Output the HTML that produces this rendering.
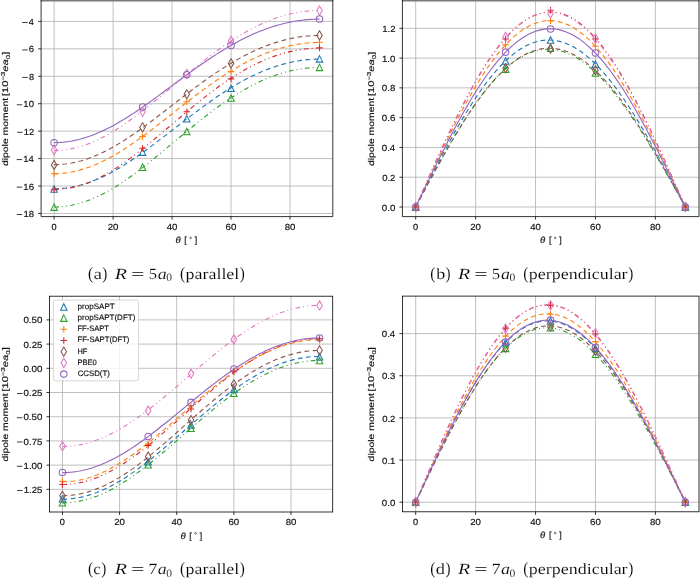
<!DOCTYPE html>
<html><head><meta charset="utf-8"><style>
html,body{margin:0;padding:0;background:#fff;overflow:hidden;}
svg{display:block;filter:blur(0.4px);text-rendering:geometricPrecision;}
.s{stroke:#111;stroke-width:0.16px;}
</style></head><body>
<svg width="700" height="578" viewBox="0 0 700 578">
<line x1="54.1" y1="0.6" x2="54.1" y2="216.6" stroke="#b0b0b0" stroke-width="0.8"/>
<line x1="113.08" y1="0.6" x2="113.08" y2="216.6" stroke="#b0b0b0" stroke-width="0.8"/>
<line x1="172.06" y1="0.6" x2="172.06" y2="216.6" stroke="#b0b0b0" stroke-width="0.8"/>
<line x1="231.04" y1="0.6" x2="231.04" y2="216.6" stroke="#b0b0b0" stroke-width="0.8"/>
<line x1="290.02" y1="0.6" x2="290.02" y2="216.6" stroke="#b0b0b0" stroke-width="0.8"/>
<line x1="41.1" y1="21.4" x2="332.8" y2="21.4" stroke="#b0b0b0" stroke-width="0.8"/>
<line x1="41.1" y1="48.84" x2="332.8" y2="48.84" stroke="#b0b0b0" stroke-width="0.8"/>
<line x1="41.1" y1="76.27" x2="332.8" y2="76.27" stroke="#b0b0b0" stroke-width="0.8"/>
<line x1="41.1" y1="103.71" x2="332.8" y2="103.71" stroke="#b0b0b0" stroke-width="0.8"/>
<line x1="41.1" y1="131.14" x2="332.8" y2="131.14" stroke="#b0b0b0" stroke-width="0.8"/>
<line x1="41.1" y1="158.58" x2="332.8" y2="158.58" stroke="#b0b0b0" stroke-width="0.8"/>
<line x1="41.1" y1="186.02" x2="332.8" y2="186.02" stroke="#b0b0b0" stroke-width="0.8"/>
<line x1="41.1" y1="213.45" x2="332.8" y2="213.45" stroke="#b0b0b0" stroke-width="0.8"/>
<polyline points="54.1,188.79 57.05,188.75 60,188.61 62.95,188.38 65.9,188.06 68.84,187.65 71.79,187.16 74.74,186.57 77.69,185.9 80.64,185.14 83.59,184.29 86.54,183.36 89.49,182.35 92.44,181.26 95.39,180.09 98.34,178.84 101.28,177.52 104.23,176.13 107.18,174.66 110.13,173.13 113.08,171.53 116.03,169.87 118.98,168.16 121.93,166.38 124.88,164.55 127.82,162.67 130.77,160.73 133.72,158.76 136.67,156.74 139.62,154.68 142.57,152.58 145.52,150.45 148.47,148.3 151.42,146.11 154.37,143.9 157.31,141.67 160.26,139.42 163.21,137.16 166.16,134.88 169.11,132.6 172.06,130.31 175.01,128.02 177.96,125.74 180.91,123.45 183.86,121.17 186.8,118.9 189.75,116.65 192.7,114.41 195.65,112.18 198.6,109.98 201.55,107.8 204.5,105.64 207.45,103.52 210.4,101.42 213.35,99.35 216.29,97.32 219.24,95.33 222.19,93.37 225.14,91.46 228.09,89.58 231.04,87.75 233.99,85.97 236.94,84.23 239.89,82.54 242.84,80.91 245.78,79.32 248.73,77.79 251.68,76.31 254.63,74.88 257.58,73.52 260.53,72.21 263.48,70.96 266.43,69.76 269.38,68.63 272.33,67.56 275.27,66.55 278.22,65.6 281.17,64.72 284.12,63.9 287.07,63.14 290.02,62.45 292.97,61.82 295.92,61.26 298.87,60.76 301.82,60.33 304.76,59.96 307.71,59.66 310.66,59.43 313.61,59.26 316.56,59.16 319.51,59.13" fill="none" stroke="#1f77b4" stroke-width="1.12" stroke-dasharray="4.8 3.4"/>
<polyline points="54.1,206.95 57.05,206.9 60,206.76 62.95,206.51 65.9,206.16 68.84,205.72 71.79,205.18 74.74,204.54 77.69,203.81 80.64,202.98 83.59,202.06 86.54,201.05 89.49,199.95 92.44,198.77 95.39,197.49 98.34,196.14 101.28,194.71 104.23,193.19 107.18,191.6 110.13,189.94 113.08,188.21 116.03,186.41 118.98,184.54 121.93,182.62 124.88,180.63 127.82,178.59 130.77,176.5 133.72,174.36 136.67,172.17 139.62,169.94 142.57,167.67 145.52,165.37 148.47,163.03 151.42,160.67 154.37,158.28 157.31,155.87 160.26,153.45 163.21,151 166.16,148.55 169.11,146.09 172.06,143.62 175.01,141.15 177.96,138.69 180.91,136.23 183.86,133.77 186.8,131.33 189.75,128.91 192.7,126.5 195.65,124.11 198.6,121.74 201.55,119.4 204.5,117.09 207.45,114.8 210.4,112.56 213.35,110.34 216.29,108.17 219.24,106.03 222.19,103.94 225.14,101.89 228.09,99.89 231.04,97.93 233.99,96.03 236.94,94.17 239.89,92.37 242.84,90.62 245.78,88.93 248.73,87.3 251.68,85.72 254.63,84.21 257.58,82.75 260.53,81.36 263.48,80.03 266.43,78.76 269.38,77.55 272.33,76.42 275.27,75.34 278.22,74.34 281.17,73.4 284.12,72.53 287.07,71.72 290.02,70.99 292.97,70.32 295.92,69.72 298.87,69.2 301.82,68.74 304.76,68.35 307.71,68.03 310.66,67.79 313.61,67.61 316.56,67.5 319.51,67.47" fill="none" stroke="#2ca02c" stroke-width="1.12" stroke-dasharray="4.7 3.1 1 3.3 1 3.1"/>
<polyline points="54.1,173.63 57.05,173.59 60,173.45 62.95,173.21 65.9,172.88 68.84,172.46 71.79,171.95 74.74,171.35 77.69,170.65 80.64,169.87 83.59,169 86.54,168.05 89.49,167.01 92.44,165.88 95.39,164.68 98.34,163.4 101.28,162.04 104.23,160.61 107.18,159.11 110.13,157.54 113.08,155.9 116.03,154.19 118.98,152.43 121.93,150.61 124.88,148.74 127.82,146.81 130.77,144.83 133.72,142.81 136.67,140.74 139.62,138.64 142.57,136.5 145.52,134.32 148.47,132.12 151.42,129.89 154.37,127.64 157.31,125.37 160.26,123.08 163.21,120.78 166.16,118.46 169.11,116.15 172.06,113.82 175.01,111.5 177.96,109.18 180.91,106.86 183.86,104.56 186.8,102.26 189.75,99.98 192.7,97.72 195.65,95.47 198.6,93.25 201.55,91.05 204.5,88.88 207.45,86.74 210.4,84.63 213.35,82.55 216.29,80.51 219.24,78.51 222.19,76.55 225.14,74.63 228.09,72.76 231.04,70.93 233.99,69.14 236.94,67.41 239.89,65.72 242.84,64.09 245.78,62.51 248.73,60.98 251.68,59.51 254.63,58.09 257.58,56.74 260.53,55.43 263.48,54.19 266.43,53.01 269.38,51.89 272.33,50.83 275.27,49.83 278.22,48.89 281.17,48.01 284.12,47.2 287.07,46.45 290.02,45.77 292.97,45.15 295.92,44.59 298.87,44.1 301.82,43.67 304.76,43.31 307.71,43.02 310.66,42.79 313.61,42.62 316.56,42.52 319.51,42.49" fill="none" stroke="#ff7f0e" stroke-width="1.12" stroke-dasharray="4.8 3.4"/>
<polyline points="54.1,189.43 57.05,189.38 60,189.23 62.95,188.97 65.9,188.61 68.84,188.15 71.79,187.59 74.74,186.92 77.69,186.16 80.64,185.3 83.59,184.35 86.54,183.3 89.49,182.16 92.44,180.93 95.39,179.61 98.34,178.21 101.28,176.72 104.23,175.15 107.18,173.51 110.13,171.79 113.08,170 116.03,168.14 118.98,166.21 121.93,164.22 124.88,162.17 127.82,160.07 130.77,157.91 133.72,155.71 136.67,153.45 139.62,151.16 142.57,148.83 145.52,146.47 148.47,144.07 151.42,141.65 154.37,139.2 157.31,136.74 160.26,134.26 163.21,131.76 166.16,129.26 169.11,126.75 172.06,124.23 175.01,121.72 177.96,119.22 180.91,116.72 183.86,114.23 186.8,111.76 189.75,109.3 192.7,106.87 195.65,104.45 198.6,102.07 201.55,99.71 204.5,97.38 207.45,95.09 210.4,92.83 213.35,90.61 216.29,88.43 219.24,86.29 222.19,84.2 225.14,82.16 228.09,80.16 231.04,78.21 233.99,76.32 236.94,74.47 239.89,72.69 242.84,70.95 245.78,69.28 248.73,67.66 251.68,66.11 254.63,64.61 257.58,63.17 260.53,61.8 263.48,60.49 266.43,59.24 269.38,58.06 272.33,56.94 275.27,55.89 278.22,54.9 281.17,53.98 284.12,53.13 287.07,52.35 290.02,51.63 292.97,50.98 295.92,50.39 298.87,49.88 301.82,49.43 304.76,49.05 307.71,48.74 310.66,48.5 313.61,48.33 316.56,48.23 319.51,48.19" fill="none" stroke="#d62728" stroke-width="1.12" stroke-dasharray="4.7 3.1 1 3.3 1 3.1"/>
<polyline points="54.1,164.68 57.05,164.64 60,164.5 62.95,164.26 65.9,163.94 68.84,163.52 71.79,163.01 74.74,162.41 77.69,161.72 80.64,160.94 83.59,160.07 86.54,159.12 89.49,158.09 92.44,156.97 95.39,155.78 98.34,154.5 101.28,153.15 104.23,151.73 107.18,150.24 110.13,148.67 113.08,147.05 116.03,145.36 118.98,143.61 121.93,141.8 124.88,139.94 127.82,138.02 130.77,136.06 133.72,134.06 136.67,132.01 139.62,129.93 142.57,127.8 145.52,125.65 148.47,123.47 151.42,121.26 154.37,119.04 157.31,116.79 160.26,114.53 163.21,112.25 166.16,109.97 169.11,107.68 172.06,105.38 175.01,103.09 177.96,100.8 180.91,98.52 183.86,96.25 186.8,93.98 189.75,91.74 192.7,89.51 195.65,87.3 198.6,85.11 201.55,82.95 204.5,80.82 207.45,78.72 210.4,76.65 213.35,74.61 216.29,72.61 219.24,70.65 222.19,68.73 225.14,66.85 228.09,65.01 231.04,63.22 233.99,61.48 236.94,59.78 239.89,58.13 242.84,56.54 245.78,55 248.73,53.51 251.68,52.07 254.63,50.69 257.58,49.37 260.53,48.1 263.48,46.89 266.43,45.74 269.38,44.64 272.33,43.61 275.27,42.64 278.22,41.73 281.17,40.88 284.12,40.09 287.07,39.36 290.02,38.69 292.97,38.09 295.92,37.55 298.87,37.07 301.82,36.66 304.76,36.31 307.71,36.02 310.66,35.8 313.61,35.64 316.56,35.55 319.51,35.51" fill="none" stroke="#8c564b" stroke-width="1.12" stroke-dasharray="4.8 3.4"/>
<polyline points="54.1,150.41 57.05,150.36 60,150.21 62.95,149.96 65.9,149.61 68.84,149.17 71.79,148.62 74.74,147.98 77.69,147.25 80.64,146.41 83.59,145.49 86.54,144.47 89.49,143.37 92.44,142.18 95.39,140.9 98.34,139.54 101.28,138.09 104.23,136.57 107.18,134.97 110.13,133.3 113.08,131.56 116.03,129.75 118.98,127.87 121.93,125.94 124.88,123.94 127.82,121.89 130.77,119.79 133.72,117.64 136.67,115.44 139.62,113.2 142.57,110.92 145.52,108.61 148.47,106.26 151.42,103.89 154.37,101.49 157.31,99.07 160.26,96.63 163.21,94.17 166.16,91.71 169.11,89.24 172.06,86.76 175.01,84.28 177.96,81.81 180.91,79.34 183.86,76.88 186.8,74.43 189.75,71.99 192.7,69.57 195.65,67.18 198.6,64.8 201.55,62.45 204.5,60.13 207.45,57.84 210.4,55.59 213.35,53.37 216.29,51.19 219.24,49.05 222.19,46.95 225.14,44.9 228.09,42.89 231.04,40.93 233.99,39.02 236.94,37.16 239.89,35.36 242.84,33.61 245.78,31.92 248.73,30.28 251.68,28.7 254.63,27.18 257.58,25.73 260.53,24.33 263.48,23 266.43,21.73 269.38,20.52 272.33,19.38 275.27,18.31 278.22,17.3 281.17,16.36 284.12,15.49 287.07,14.69 290.02,13.95 292.97,13.29 295.92,12.69 298.87,12.16 301.82,11.7 304.76,11.32 307.71,11 310.66,10.75 313.61,10.57 316.56,10.47 319.51,10.43" fill="none" stroke="#e377c2" stroke-width="1.12" stroke-dasharray="4.7 3.1 1 3.3 1 3.1"/>
<polyline points="54.1,142.6 57.05,142.55 60,142.42 62.95,142.19 65.9,141.88 68.84,141.47 71.79,140.98 74.74,140.41 77.69,139.74 80.64,138.99 83.59,138.16 86.54,137.24 89.49,136.25 92.44,135.17 95.39,134.02 98.34,132.8 101.28,131.5 104.23,130.13 107.18,128.69 110.13,127.19 113.08,125.63 116.03,124 118.98,122.32 121.93,120.58 124.88,118.79 127.82,116.96 130.77,115.07 133.72,113.15 136.67,111.18 139.62,109.18 142.57,107.15 145.52,105.08 148.47,102.99 151.42,100.87 154.37,98.73 157.31,96.58 160.26,94.41 163.21,92.23 166.16,90.04 169.11,87.85 172.06,85.66 175.01,83.46 177.96,81.27 180.91,79.09 183.86,76.91 186.8,74.75 189.75,72.6 192.7,70.47 195.65,68.37 198.6,66.28 201.55,64.22 204.5,62.18 207.45,60.18 210.4,58.2 213.35,56.26 216.29,54.35 219.24,52.48 222.19,50.65 225.14,48.87 228.09,47.12 231.04,45.41 233.99,43.76 236.94,42.14 239.89,40.58 242.84,39.06 245.78,37.6 248.73,36.18 251.68,34.82 254.63,33.51 257.58,32.25 260.53,31.05 263.48,29.9 266.43,28.81 269.38,27.78 272.33,26.8 275.27,25.88 278.22,25.01 281.17,24.21 284.12,23.46 287.07,22.77 290.02,22.14 292.97,21.57 295.92,21.06 298.87,20.61 301.82,20.22 304.76,19.89 307.71,19.62 310.66,19.41 313.61,19.26 316.56,19.16 319.51,19.13" fill="none" stroke="#9467bd" stroke-width="1.12"/>
<path d="M54.1 185.78L50.85 192.28L57.35 192.28Z" fill="none" stroke="#1f77b4" stroke-width="1.05"/>
<path d="M142.57 148.88L139.32 155.38L145.82 155.38Z" fill="none" stroke="#1f77b4" stroke-width="1.05"/>
<path d="M186.8 115.55L183.55 122.05L190.05 122.05Z" fill="none" stroke="#1f77b4" stroke-width="1.05"/>
<path d="M231.04 85.09L227.79 91.59L234.29 91.59Z" fill="none" stroke="#1f77b4" stroke-width="1.05"/>
<path d="M319.51 55.6L316.26 62.1L322.76 62.1Z" fill="none" stroke="#1f77b4" stroke-width="1.05"/>
<path d="M54.1 203.89L50.85 210.39L57.35 210.39Z" fill="none" stroke="#2ca02c" stroke-width="1.05"/>
<path d="M142.57 163.97L139.32 170.47L145.82 170.47Z" fill="none" stroke="#2ca02c" stroke-width="1.05"/>
<path d="M186.8 128.31L183.55 134.81L190.05 134.81Z" fill="none" stroke="#2ca02c" stroke-width="1.05"/>
<path d="M231.04 94.83L227.79 101.33L234.29 101.33Z" fill="none" stroke="#2ca02c" stroke-width="1.05"/>
<path d="M319.51 64.11L316.26 70.61L322.76 70.61Z" fill="none" stroke="#2ca02c" stroke-width="1.05"/>
<path d="M50.85 173.67H57.35M54.1 170.42V176.92" fill="none" stroke="#ff7f0e" stroke-width="1.05"/>
<path d="M139.32 136.63H145.82M142.57 133.38V139.88" fill="none" stroke="#ff7f0e" stroke-width="1.05"/>
<path d="M183.55 101.65H190.05M186.8 98.4V104.9" fill="none" stroke="#ff7f0e" stroke-width="1.05"/>
<path d="M227.79 71.61H234.29M231.04 68.36V74.86" fill="none" stroke="#ff7f0e" stroke-width="1.05"/>
<path d="M316.26 42.25H322.76M319.51 39V45.5" fill="none" stroke="#ff7f0e" stroke-width="1.05"/>
<path d="M50.85 189.72H57.35M54.1 186.47V192.97" fill="none" stroke="#d62728" stroke-width="1.05"/>
<path d="M139.32 148.29H145.82M142.57 145.04V151.54" fill="none" stroke="#d62728" stroke-width="1.05"/>
<path d="M183.55 111.66H190.05M186.8 108.41V114.91" fill="none" stroke="#d62728" stroke-width="1.05"/>
<path d="M227.79 78.88H234.29M231.04 75.63V82.13" fill="none" stroke="#d62728" stroke-width="1.05"/>
<path d="M316.26 47.88H322.76M319.51 44.63V51.13" fill="none" stroke="#d62728" stroke-width="1.05"/>
<path d="M54.1 160.29L56.86 164.89L54.1 169.49L51.34 164.89Z" fill="none" stroke="#8c564b" stroke-width="1.05"/>
<path d="M142.57 122.71L145.33 127.3L142.57 131.9L139.81 127.3Z" fill="none" stroke="#8c564b" stroke-width="1.05"/>
<path d="M186.8 89.65L189.56 94.24L186.8 98.84L184.05 94.24Z" fill="none" stroke="#8c564b" stroke-width="1.05"/>
<path d="M231.04 58.78L233.8 63.38L231.04 67.97L228.28 63.38Z" fill="none" stroke="#8c564b" stroke-width="1.05"/>
<path d="M319.51 30.8L322.27 35.39L319.51 39.99L316.75 35.39Z" fill="none" stroke="#8c564b" stroke-width="1.05"/>
<path d="M54.1 145.48L56.86 150.07L54.1 154.67L51.34 150.07Z" fill="none" stroke="#e377c2" stroke-width="1.05"/>
<path d="M142.57 107.21L145.33 111.8L142.57 116.4L139.81 111.8Z" fill="none" stroke="#e377c2" stroke-width="1.05"/>
<path d="M186.8 69.21L189.56 73.8L186.8 78.4L184.05 73.8Z" fill="none" stroke="#e377c2" stroke-width="1.05"/>
<path d="M231.04 36.28L233.8 40.88L231.04 45.48L228.28 40.88Z" fill="none" stroke="#e377c2" stroke-width="1.05"/>
<path d="M319.51 5.97L322.27 10.56L319.51 15.16L316.75 10.56Z" fill="none" stroke="#e377c2" stroke-width="1.05"/>
<circle cx="54.1" cy="142.67" r="3.25" fill="none" stroke="#9467bd" stroke-width="1.05"/>
<circle cx="142.57" cy="107" r="3.25" fill="none" stroke="#9467bd" stroke-width="1.05"/>
<circle cx="186.8" cy="74.76" r="3.25" fill="none" stroke="#9467bd" stroke-width="1.05"/>
<circle cx="231.04" cy="45.54" r="3.25" fill="none" stroke="#9467bd" stroke-width="1.05"/>
<circle cx="319.51" cy="19.07" r="3.25" fill="none" stroke="#9467bd" stroke-width="1.05"/>
<rect x="40.7" y="0" width="292.5" height="1.5" fill="#7a7a7a"/>
<path d="M41.1 0V216.6H332.8V0" fill="none" stroke="#000000" stroke-width="0.8"/>
<line x1="54.1" y1="216.6" x2="54.1" y2="219.6" stroke="#000000" stroke-width="0.8"/>
<text x="51.53" y="229.5" font-family='"Liberation Sans",sans-serif' font-size="8.9" class="s" fill="#111" textLength="5.12" lengthAdjust="spacingAndGlyphs">0</text>
<line x1="113.08" y1="216.6" x2="113.08" y2="219.6" stroke="#000000" stroke-width="0.8"/>
<text x="107.69" y="229.5" font-family='"Liberation Sans",sans-serif' font-size="8.9" class="s" fill="#111" textLength="10.74" lengthAdjust="spacingAndGlyphs">20</text>
<line x1="172.06" y1="216.6" x2="172.06" y2="219.6" stroke="#000000" stroke-width="0.8"/>
<text x="166.74" y="229.5" font-family='"Liberation Sans",sans-serif' font-size="8.9" class="s" fill="#111" textLength="10.67" lengthAdjust="spacingAndGlyphs">40</text>
<line x1="231.04" y1="216.6" x2="231.04" y2="219.6" stroke="#000000" stroke-width="0.8"/>
<text x="225.63" y="229.5" font-family='"Liberation Sans",sans-serif' font-size="8.9" class="s" fill="#111" textLength="10.77" lengthAdjust="spacingAndGlyphs">60</text>
<line x1="290.02" y1="216.6" x2="290.02" y2="219.6" stroke="#000000" stroke-width="0.8"/>
<text x="284.66" y="229.5" font-family='"Liberation Sans",sans-serif' font-size="8.9" class="s" fill="#111" textLength="10.71" lengthAdjust="spacingAndGlyphs">80</text>
<line x1="38.1" y1="21.4" x2="41.1" y2="21.4" stroke="#000000" stroke-width="0.8"/>
<text x="28.83" y="25" font-family='"Liberation Sans",sans-serif' font-size="8.9" class="s" fill="#111" textLength="5.08" lengthAdjust="spacingAndGlyphs">4</text>
<rect x="22.23" y="22.08" width="5.45" height="0.82" fill="#111"/>
<line x1="38.1" y1="48.84" x2="41.1" y2="48.84" stroke="#000000" stroke-width="0.8"/>
<text x="28.81" y="52.44" font-family='"Liberation Sans",sans-serif' font-size="8.9" class="s" fill="#111" textLength="5.26" lengthAdjust="spacingAndGlyphs">6</text>
<rect x="22.29" y="49.52" width="5.45" height="0.82" fill="#111"/>
<line x1="38.1" y1="76.27" x2="41.1" y2="76.27" stroke="#000000" stroke-width="0.8"/>
<text x="28.91" y="79.87" font-family='"Liberation Sans",sans-serif' font-size="8.9" class="s" fill="#111" textLength="5.15" lengthAdjust="spacingAndGlyphs">8</text>
<rect x="22.34" y="76.95" width="5.45" height="0.82" fill="#111"/>
<line x1="38.1" y1="103.71" x2="41.1" y2="103.71" stroke="#000000" stroke-width="0.8"/>
<text x="23.38" y="107.31" font-family='"Liberation Sans",sans-serif' font-size="8.9" class="s" fill="#111" textLength="10.65" lengthAdjust="spacingAndGlyphs">10</text>
<rect x="16.77" y="104.39" width="5.45" height="0.82" fill="#111"/>
<line x1="38.1" y1="131.14" x2="41.1" y2="131.14" stroke="#000000" stroke-width="0.8"/>
<text x="23.7" y="134.74" font-family='"Liberation Sans",sans-serif' font-size="8.9" class="s" fill="#111" textLength="10.44" lengthAdjust="spacingAndGlyphs">12</text>
<rect x="17.07" y="131.83" width="5.45" height="0.82" fill="#111"/>
<line x1="38.1" y1="158.58" x2="41.1" y2="158.58" stroke="#000000" stroke-width="0.8"/>
<text x="23.3" y="162.18" font-family='"Liberation Sans",sans-serif' font-size="8.9" class="s" fill="#111" textLength="10.64" lengthAdjust="spacingAndGlyphs">14</text>
<rect x="16.68" y="159.26" width="5.45" height="0.82" fill="#111"/>
<line x1="38.1" y1="186.02" x2="41.1" y2="186.02" stroke="#000000" stroke-width="0.8"/>
<text x="23.36" y="189.62" font-family='"Liberation Sans",sans-serif' font-size="8.9" class="s" fill="#111" textLength="10.73" lengthAdjust="spacingAndGlyphs">16</text>
<rect x="16.75" y="186.7" width="5.45" height="0.82" fill="#111"/>
<line x1="38.1" y1="213.45" x2="41.1" y2="213.45" stroke="#000000" stroke-width="0.8"/>
<text x="23.4" y="217.05" font-family='"Liberation Sans",sans-serif' font-size="8.9" class="s" fill="#111" textLength="10.68" lengthAdjust="spacingAndGlyphs">18</text>
<rect x="16.79" y="214.13" width="5.45" height="0.82" fill="#111"/>
<text x="175.47" y="243.2" font-family='"Liberation Sans",sans-serif' font-size="8.9" font-style="italic" class="s" fill="#111" textLength="5.21" lengthAdjust="spacingAndGlyphs">θ</text>
<text class="s" x="184.35" y="243.2" font-family='"Liberation Sans",sans-serif' font-size="8.9" fill="#111">[</text>
<text class="s" x="194.75" y="243.2" font-family='"Liberation Sans",sans-serif' font-size="8.9" fill="#111">]</text>
<circle cx="190.6" cy="237.9" r="0.85" fill="none" stroke="#111" stroke-width="0.55"/>
<text class="s" transform="translate(7.9 165.6) rotate(-90) scale(1.2529 1)" x="-0.35" y="0" font-family='"Liberation Sans",sans-serif' font-size="8.3" fill="#111">dipole moment</text>
<text class="s" transform="translate(7.9 95.3) rotate(-90) scale(1.3481 1)" x="-0.6" y="0" font-family='"Liberation Sans",sans-serif' fill="#111"><tspan font-size="8.3" dy="0">[10</tspan><tspan font-size="5.81" dy="-3.1">−3</tspan><tspan font-size="8.3" dy="3.1" font-style="italic">ea</tspan><tspan font-size="5.81" dy="1.6">0</tspan><tspan font-size="8.3" dy="-1.6">]</tspan></text>
<line x1="415.7" y1="0.6" x2="415.7" y2="216.6" stroke="#b0b0b0" stroke-width="0.8"/>
<line x1="475.62" y1="0.6" x2="475.62" y2="216.6" stroke="#b0b0b0" stroke-width="0.8"/>
<line x1="535.54" y1="0.6" x2="535.54" y2="216.6" stroke="#b0b0b0" stroke-width="0.8"/>
<line x1="595.46" y1="0.6" x2="595.46" y2="216.6" stroke="#b0b0b0" stroke-width="0.8"/>
<line x1="655.38" y1="0.6" x2="655.38" y2="216.6" stroke="#b0b0b0" stroke-width="0.8"/>
<line x1="402.4" y1="207" x2="699" y2="207" stroke="#b0b0b0" stroke-width="0.8"/>
<line x1="402.4" y1="177.22" x2="699" y2="177.22" stroke="#b0b0b0" stroke-width="0.8"/>
<line x1="402.4" y1="147.44" x2="699" y2="147.44" stroke="#b0b0b0" stroke-width="0.8"/>
<line x1="402.4" y1="117.66" x2="699" y2="117.66" stroke="#b0b0b0" stroke-width="0.8"/>
<line x1="402.4" y1="87.88" x2="699" y2="87.88" stroke="#b0b0b0" stroke-width="0.8"/>
<line x1="402.4" y1="58.1" x2="699" y2="58.1" stroke="#b0b0b0" stroke-width="0.8"/>
<line x1="402.4" y1="28.32" x2="699" y2="28.32" stroke="#b0b0b0" stroke-width="0.8"/>
<polyline points="415.7,207 418.7,201.05 421.69,195.1 424.69,189.17 427.68,183.27 430.68,177.39 433.68,171.56 436.67,165.77 439.67,160.03 442.66,154.35 445.66,148.74 448.66,143.21 451.65,137.76 454.65,132.39 457.64,127.13 460.64,121.96 463.64,116.91 466.63,111.97 469.63,107.16 472.62,102.47 475.62,97.91 478.62,93.5 481.61,89.23 484.61,85.11 487.6,81.14 490.6,77.34 493.6,73.69 496.59,70.22 499.59,66.92 502.58,63.8 505.58,60.86 508.58,58.1 511.57,55.53 514.57,53.15 517.56,50.96 520.56,48.96 523.56,47.17 526.55,45.57 529.55,44.17 532.54,42.97 535.54,41.97 538.54,41.18 541.53,40.6 544.53,40.21 547.52,40.03 550.52,40.06 553.52,40.28 556.51,40.71 559.51,41.35 562.5,42.18 565.5,43.21 568.5,44.44 571.49,45.86 574.49,47.48 577.48,49.29 580.48,51.28 583.48,53.47 586.47,55.83 589.47,58.37 592.46,61.09 595.46,63.99 598.46,67.05 601.45,70.27 604.45,73.66 607.44,77.2 610.44,80.89 613.44,84.73 616.43,88.71 619.43,92.84 622.42,97.09 625.42,101.47 628.42,105.97 631.41,110.59 634.41,115.32 637.4,120.16 640.4,125.09 643.4,130.12 646.39,135.24 649.39,140.44 652.38,145.72 655.38,151.06 658.38,156.47 661.37,161.94 664.37,167.46 667.36,173.02 670.36,178.63 673.36,184.26 676.35,189.92 679.35,195.61 682.34,201.3 685.34,207" fill="none" stroke="#1f77b4" stroke-width="1.12" stroke-dasharray="4.8 3.4"/>
<polyline points="415.7,207 418.7,201.35 421.69,195.7 424.69,190.07 427.68,184.46 430.68,178.88 433.68,173.34 436.67,167.84 439.67,162.4 442.66,157.01 445.66,151.69 448.66,146.44 451.65,141.27 454.65,136.18 457.64,131.19 460.64,126.3 463.64,121.51 466.63,116.83 469.63,112.27 472.62,107.83 475.62,103.53 478.62,99.35 481.61,95.31 484.61,91.42 487.6,87.68 490.6,84.09 493.6,80.66 496.59,77.39 499.59,74.28 502.58,71.34 505.58,68.58 508.58,65.99 511.57,63.58 514.57,61.35 517.56,59.3 520.56,57.44 523.56,55.77 526.55,54.28 529.55,52.99 532.54,51.89 535.54,50.98 538.54,50.26 541.53,49.73 544.53,49.4 547.52,49.26 550.52,49.32 553.52,49.56 556.51,50 559.51,50.63 562.5,51.44 565.5,52.45 568.5,53.64 571.49,55.01 574.49,56.56 577.48,58.3 580.48,60.21 583.48,62.29 586.47,64.54 589.47,66.97 592.46,69.55 595.46,72.3 598.46,75.21 601.45,78.27 604.45,81.47 607.44,84.83 610.44,88.32 613.44,91.95 616.43,95.72 619.43,99.61 622.42,103.63 625.42,107.76 628.42,112 631.41,116.36 634.41,120.82 637.4,125.37 640.4,130.02 643.4,134.75 646.39,139.57 649.39,144.46 652.38,149.42 655.38,154.45 658.38,159.54 661.37,164.68 664.37,169.86 667.36,175.09 670.36,180.35 673.36,185.65 676.35,190.96 679.35,196.3 682.34,201.65 685.34,207" fill="none" stroke="#2ca02c" stroke-width="1.12" stroke-dasharray="4.7 3.1 1 3.3 1 3.1"/>
<polyline points="415.7,207 418.7,200.44 421.69,193.88 424.69,187.34 427.68,180.83 430.68,174.35 433.68,167.91 436.67,161.52 439.67,155.18 442.66,148.91 445.66,142.72 448.66,136.6 451.65,130.57 454.65,124.64 457.64,118.81 460.64,113.09 463.64,107.48 466.63,102.01 469.63,96.66 472.62,91.45 475.62,86.38 478.62,81.46 481.61,76.7 484.61,72.1 487.6,67.67 490.6,63.41 493.6,59.33 496.59,55.43 499.59,51.72 502.58,48.21 505.58,44.88 508.58,41.76 511.57,38.84 514.57,36.13 517.56,33.64 520.56,31.35 523.56,29.28 526.55,27.43 529.55,25.8 532.54,24.39 535.54,23.2 538.54,22.24 541.53,21.51 544.53,21 547.52,20.72 550.52,20.66 553.52,20.84 556.51,21.24 559.51,21.86 562.5,22.71 565.5,23.79 568.5,25.09 571.49,26.6 574.49,28.34 577.48,30.29 580.48,32.45 583.48,34.83 586.47,37.41 589.47,40.2 592.46,43.19 595.46,46.37 598.46,49.75 601.45,53.32 604.45,57.07 607.44,61 610.44,65.1 613.44,69.38 616.43,73.82 619.43,78.42 622.42,83.17 625.42,88.07 628.42,93.11 631.41,98.29 634.41,103.6 637.4,109.03 640.4,114.58 643.4,120.23 646.39,125.99 649.39,131.85 652.38,137.79 655.38,143.82 658.38,149.92 661.37,156.09 664.37,162.32 667.36,168.61 670.36,174.94 673.36,181.3 676.35,187.7 679.35,194.12 682.34,200.56 685.34,207" fill="none" stroke="#ff7f0e" stroke-width="1.12" stroke-dasharray="4.8 3.4"/>
<polyline points="415.7,207 418.7,200.19 421.69,193.39 424.69,186.61 427.68,179.86 430.68,173.13 433.68,166.45 436.67,159.81 439.67,153.24 442.66,146.73 445.66,140.29 448.66,133.94 451.65,127.67 454.65,121.5 457.64,115.43 460.64,109.48 463.64,103.64 466.63,97.93 469.63,92.36 472.62,86.92 475.62,81.63 478.62,76.49 481.61,71.51 484.61,66.7 487.6,62.05 490.6,57.59 493.6,53.3 496.59,49.21 499.59,45.3 502.58,41.59 505.58,38.09 508.58,34.79 511.57,31.7 514.57,28.82 517.56,26.16 520.56,23.72 523.56,21.5 526.55,19.51 529.55,17.75 532.54,16.22 535.54,14.92 538.54,13.85 541.53,13.02 544.53,12.43 547.52,12.07 550.52,11.96 553.52,12.07 556.51,12.43 559.51,13.02 562.5,13.85 565.5,14.92 568.5,16.22 571.49,17.75 574.49,19.51 577.48,21.5 580.48,23.72 583.48,26.16 586.47,28.82 589.47,31.7 592.46,34.79 595.46,38.09 598.46,41.59 601.45,45.3 604.45,49.21 607.44,53.3 610.44,57.59 613.44,62.05 616.43,66.7 619.43,71.51 622.42,76.49 625.42,81.63 628.42,86.92 631.41,92.36 634.41,97.93 637.4,103.64 640.4,109.48 643.4,115.43 646.39,121.5 649.39,127.67 652.38,133.94 655.38,140.29 658.38,146.73 661.37,153.24 664.37,159.81 667.36,166.45 670.36,173.13 673.36,179.86 676.35,186.61 679.35,193.39 682.34,200.19 685.34,207" fill="none" stroke="#d62728" stroke-width="1.12" stroke-dasharray="4.7 3.1 1 3.3 1 3.1"/>
<polyline points="415.7,207 418.7,201.38 421.69,195.76 424.69,190.16 427.68,184.58 430.68,179.02 433.68,173.51 436.67,168.03 439.67,162.61 442.66,157.24 445.66,151.94 448.66,146.7 451.65,141.54 454.65,136.47 457.64,131.48 460.64,126.59 463.64,121.8 466.63,117.12 469.63,112.55 472.62,108.1 475.62,103.78 478.62,99.59 481.61,95.53 484.61,91.61 487.6,87.84 490.6,84.22 493.6,80.75 496.59,77.44 499.59,74.29 502.58,71.3 505.58,68.49 508.58,65.85 511.57,63.38 514.57,61.09 517.56,58.99 520.56,57.06 523.56,55.33 526.55,53.78 529.55,52.41 532.54,51.24 535.54,50.26 538.54,49.48 541.53,48.88 544.53,48.48 547.52,48.28 550.52,48.26 553.52,48.44 556.51,48.82 559.51,49.38 562.5,50.14 565.5,51.09 568.5,52.22 571.49,53.54 574.49,55.05 577.48,56.74 580.48,58.61 583.48,60.66 586.47,62.88 589.47,65.28 592.46,67.84 595.46,70.57 598.46,73.47 601.45,76.52 604.45,79.72 607.44,83.08 610.44,86.59 613.44,90.23 616.43,94.02 619.43,97.94 622.42,101.98 625.42,106.15 628.42,110.44 631.41,114.84 634.41,119.35 637.4,123.96 640.4,128.67 643.4,133.48 646.39,138.36 649.39,143.33 652.38,148.37 655.38,153.48 658.38,158.66 661.37,163.88 664.37,169.16 667.36,174.49 670.36,179.85 673.36,185.24 676.35,190.66 679.35,196.09 682.34,201.54 685.34,207" fill="none" stroke="#8c564b" stroke-width="1.12" stroke-dasharray="4.8 3.4"/>
<polyline points="415.7,207 418.7,200.14 421.69,193.29 424.69,186.45 427.68,179.65 430.68,172.87 433.68,166.14 436.67,159.46 439.67,152.84 442.66,146.29 445.66,139.81 448.66,133.42 451.65,127.12 454.65,120.92 457.64,114.82 460.64,108.85 463.64,102.99 466.63,97.26 469.63,91.68 472.62,86.23 475.62,80.94 478.62,75.8 481.61,70.83 484.61,66.02 487.6,61.39 490.6,56.94 493.6,52.68 496.59,48.61 499.59,44.73 502.58,41.06 505.58,37.59 508.58,34.33 511.57,31.29 514.57,28.46 517.56,25.85 520.56,23.46 523.56,21.3 526.55,19.37 529.55,17.67 532.54,16.2 535.54,14.96 538.54,13.96 541.53,13.2 544.53,12.67 547.52,12.38 550.52,12.33 553.52,12.51 556.51,12.94 559.51,13.59 562.5,14.48 565.5,15.61 568.5,16.97 571.49,18.56 574.49,20.37 577.48,22.41 580.48,24.68 583.48,27.16 586.47,29.86 589.47,32.78 592.46,35.9 595.46,39.23 598.46,42.76 601.45,46.49 604.45,50.41 607.44,54.52 610.44,58.81 613.44,63.27 616.43,67.91 619.43,72.72 622.42,77.68 625.42,82.8 628.42,88.07 631.41,93.47 634.41,99.02 637.4,104.69 640.4,110.48 643.4,116.39 646.39,122.41 649.39,128.52 652.38,134.73 655.38,141.03 658.38,147.4 661.37,153.84 664.37,160.35 667.36,166.91 670.36,173.52 673.36,180.17 676.35,186.85 679.35,193.55 682.34,200.27 685.34,207" fill="none" stroke="#e377c2" stroke-width="1.12" stroke-dasharray="4.7 3.1 1 3.3 1 3.1"/>
<polyline points="415.7,207 418.7,200.74 421.69,194.5 424.69,188.26 427.68,182.06 430.68,175.88 433.68,169.74 436.67,163.64 439.67,157.6 442.66,151.63 445.66,145.72 448.66,139.88 451.65,134.13 454.65,128.47 457.64,122.91 460.64,117.45 463.64,112.1 466.63,106.87 469.63,101.76 472.62,96.78 475.62,91.94 478.62,87.24 481.61,82.69 484.61,78.29 487.6,74.05 490.6,69.97 493.6,66.07 496.59,62.33 499.59,58.78 502.58,55.4 505.58,52.22 508.58,49.22 511.57,46.42 514.57,43.81 517.56,41.41 520.56,39.2 523.56,37.21 526.55,35.42 529.55,33.84 532.54,32.47 535.54,31.32 538.54,30.38 541.53,29.66 544.53,29.15 547.52,28.86 550.52,28.79 553.52,28.93 556.51,29.29 559.51,29.87 562.5,30.66 565.5,31.67 568.5,32.89 571.49,34.32 574.49,35.97 577.48,37.81 580.48,39.87 583.48,42.12 586.47,44.58 589.47,47.23 592.46,50.08 595.46,53.11 598.46,56.33 601.45,59.73 604.45,63.31 607.44,67.07 610.44,70.99 613.44,75.08 616.43,79.32 619.43,83.72 622.42,88.27 625.42,92.96 628.42,97.78 631.41,102.74 634.41,107.82 637.4,113.03 640.4,118.34 643.4,123.76 646.39,129.28 649.39,134.9 652.38,140.6 655.38,146.38 658.38,152.23 661.37,158.15 664.37,164.13 667.36,170.16 670.36,176.23 673.36,182.34 676.35,188.48 679.35,194.64 682.34,200.82 685.34,207" fill="none" stroke="#9467bd" stroke-width="1.12"/>
<path d="M415.7 203.75L412.45 210.25L418.95 210.25Z" fill="none" stroke="#1f77b4" stroke-width="1.05"/>
<path d="M505.58 57.68L502.33 64.18L508.83 64.18Z" fill="none" stroke="#1f77b4" stroke-width="1.05"/>
<path d="M550.52 36.68L547.27 43.18L553.77 43.18Z" fill="none" stroke="#1f77b4" stroke-width="1.05"/>
<path d="M595.46 60.81L592.21 67.31L598.71 67.31Z" fill="none" stroke="#1f77b4" stroke-width="1.05"/>
<path d="M685.34 203.75L682.09 210.25L688.59 210.25Z" fill="none" stroke="#1f77b4" stroke-width="1.05"/>
<path d="M415.7 203.75L412.45 210.25L418.95 210.25Z" fill="none" stroke="#2ca02c" stroke-width="1.05"/>
<path d="M505.58 66.02L502.33 72.52L508.83 72.52Z" fill="none" stroke="#2ca02c" stroke-width="1.05"/>
<path d="M550.52 44.87L547.27 51.37L553.77 51.37Z" fill="none" stroke="#2ca02c" stroke-width="1.05"/>
<path d="M595.46 69.74L592.21 76.24L598.71 76.24Z" fill="none" stroke="#2ca02c" stroke-width="1.05"/>
<path d="M685.34 203.75L682.09 210.25L688.59 210.25Z" fill="none" stroke="#2ca02c" stroke-width="1.05"/>
<path d="M412.45 207H418.95M415.7 203.75V210.25" fill="none" stroke="#ff7f0e" stroke-width="1.05"/>
<path d="M502.33 44.85H508.83M505.58 41.6V48.1" fill="none" stroke="#ff7f0e" stroke-width="1.05"/>
<path d="M547.27 20.73H553.77M550.52 17.48V23.98" fill="none" stroke="#ff7f0e" stroke-width="1.05"/>
<path d="M592.21 46.34H598.71M595.46 43.09V49.59" fill="none" stroke="#ff7f0e" stroke-width="1.05"/>
<path d="M682.09 207H688.59M685.34 203.75V210.25" fill="none" stroke="#ff7f0e" stroke-width="1.05"/>
<path d="M412.45 207H418.95M415.7 203.75V210.25" fill="none" stroke="#d62728" stroke-width="1.05"/>
<path d="M502.33 39.04H508.83M505.58 35.79V42.29" fill="none" stroke="#d62728" stroke-width="1.05"/>
<path d="M547.27 10.3H553.77M550.52 7.05V13.55" fill="none" stroke="#d62728" stroke-width="1.05"/>
<path d="M592.21 39.04H598.71M595.46 35.79V42.29" fill="none" stroke="#d62728" stroke-width="1.05"/>
<path d="M682.09 207H688.59M685.34 203.75V210.25" fill="none" stroke="#d62728" stroke-width="1.05"/>
<path d="M415.7 202.4L418.46 207L415.7 211.6L412.94 207Z" fill="none" stroke="#8c564b" stroke-width="1.05"/>
<path d="M505.58 63.63L508.34 68.23L505.58 72.82L502.82 68.23Z" fill="none" stroke="#8c564b" stroke-width="1.05"/>
<path d="M550.52 44.12L553.28 48.72L550.52 53.31L547.76 48.72Z" fill="none" stroke="#8c564b" stroke-width="1.05"/>
<path d="M595.46 65.71L598.22 70.31L595.46 74.91L592.7 70.31Z" fill="none" stroke="#8c564b" stroke-width="1.05"/>
<path d="M685.34 202.4L688.1 207L685.34 211.6L682.58 207Z" fill="none" stroke="#8c564b" stroke-width="1.05"/>
<path d="M415.7 202.4L418.46 207L415.7 211.6L412.94 207Z" fill="none" stroke="#e377c2" stroke-width="1.05"/>
<path d="M505.58 32.36L508.34 36.96L505.58 41.55L502.82 36.96Z" fill="none" stroke="#e377c2" stroke-width="1.05"/>
<path d="M550.52 8.83L553.28 13.43L550.52 18.03L547.76 13.43Z" fill="none" stroke="#e377c2" stroke-width="1.05"/>
<path d="M595.46 34L598.22 38.59L595.46 43.19L592.7 38.59Z" fill="none" stroke="#e377c2" stroke-width="1.05"/>
<path d="M685.34 202.4L688.1 207L685.34 211.6L682.58 207Z" fill="none" stroke="#e377c2" stroke-width="1.05"/>
<circle cx="415.7" cy="207" r="3.25" fill="none" stroke="#9467bd" stroke-width="1.05"/>
<circle cx="505.58" cy="52.14" r="3.25" fill="none" stroke="#9467bd" stroke-width="1.05"/>
<circle cx="550.52" cy="28.92" r="3.25" fill="none" stroke="#9467bd" stroke-width="1.05"/>
<circle cx="595.46" cy="53.04" r="3.25" fill="none" stroke="#9467bd" stroke-width="1.05"/>
<circle cx="685.34" cy="207" r="3.25" fill="none" stroke="#9467bd" stroke-width="1.05"/>
<rect x="402" y="0" width="297.4" height="1.5" fill="#7a7a7a"/>
<path d="M402.4 0V216.6H699V0" fill="none" stroke="#000000" stroke-width="0.8"/>
<line x1="415.7" y1="216.6" x2="415.7" y2="219.6" stroke="#000000" stroke-width="0.8"/>
<text x="413.13" y="229.5" font-family='"Liberation Sans",sans-serif' font-size="8.9" class="s" fill="#111" textLength="5.12" lengthAdjust="spacingAndGlyphs">0</text>
<line x1="475.62" y1="216.6" x2="475.62" y2="219.6" stroke="#000000" stroke-width="0.8"/>
<text x="470.23" y="229.5" font-family='"Liberation Sans",sans-serif' font-size="8.9" class="s" fill="#111" textLength="10.74" lengthAdjust="spacingAndGlyphs">20</text>
<line x1="535.54" y1="216.6" x2="535.54" y2="219.6" stroke="#000000" stroke-width="0.8"/>
<text x="530.22" y="229.5" font-family='"Liberation Sans",sans-serif' font-size="8.9" class="s" fill="#111" textLength="10.67" lengthAdjust="spacingAndGlyphs">40</text>
<line x1="595.46" y1="216.6" x2="595.46" y2="219.6" stroke="#000000" stroke-width="0.8"/>
<text x="590.05" y="229.5" font-family='"Liberation Sans",sans-serif' font-size="8.9" class="s" fill="#111" textLength="10.77" lengthAdjust="spacingAndGlyphs">60</text>
<line x1="655.38" y1="216.6" x2="655.38" y2="219.6" stroke="#000000" stroke-width="0.8"/>
<text x="650.02" y="229.5" font-family='"Liberation Sans",sans-serif' font-size="8.9" class="s" fill="#111" textLength="10.71" lengthAdjust="spacingAndGlyphs">80</text>
<line x1="399.4" y1="207" x2="402.4" y2="207" stroke="#000000" stroke-width="0.8"/>
<text x="381.86" y="210.6" font-family='"Liberation Sans",sans-serif' font-size="8.9" class="s" fill="#111" textLength="13.45" lengthAdjust="spacingAndGlyphs">0.0</text>
<line x1="399.4" y1="177.22" x2="402.4" y2="177.22" stroke="#000000" stroke-width="0.8"/>
<text x="382.17" y="180.82" font-family='"Liberation Sans",sans-serif' font-size="8.9" class="s" fill="#111" textLength="13.26" lengthAdjust="spacingAndGlyphs">0.2</text>
<line x1="399.4" y1="147.44" x2="402.4" y2="147.44" stroke="#000000" stroke-width="0.8"/>
<text x="381.77" y="151.04" font-family='"Liberation Sans",sans-serif' font-size="8.9" class="s" fill="#111" textLength="13.44" lengthAdjust="spacingAndGlyphs">0.4</text>
<line x1="399.4" y1="117.66" x2="402.4" y2="117.66" stroke="#000000" stroke-width="0.8"/>
<text x="381.84" y="121.26" font-family='"Liberation Sans",sans-serif' font-size="8.9" class="s" fill="#111" textLength="13.53" lengthAdjust="spacingAndGlyphs">0.6</text>
<line x1="399.4" y1="87.88" x2="402.4" y2="87.88" stroke="#000000" stroke-width="0.8"/>
<text x="381.88" y="91.48" font-family='"Liberation Sans",sans-serif' font-size="8.9" class="s" fill="#111" textLength="13.48" lengthAdjust="spacingAndGlyphs">0.8</text>
<line x1="399.4" y1="58.1" x2="402.4" y2="58.1" stroke="#000000" stroke-width="0.8"/>
<text x="381.92" y="61.7" font-family='"Liberation Sans",sans-serif' font-size="8.9" class="s" fill="#111" textLength="13.4" lengthAdjust="spacingAndGlyphs">1.0</text>
<line x1="399.4" y1="28.32" x2="402.4" y2="28.32" stroke="#000000" stroke-width="0.8"/>
<text x="382.23" y="31.92" font-family='"Liberation Sans",sans-serif' font-size="8.9" class="s" fill="#111" textLength="13.19" lengthAdjust="spacingAndGlyphs">1.2</text>
<text x="540.02" y="243.2" font-family='"Liberation Sans",sans-serif' font-size="8.9" font-style="italic" class="s" fill="#111" textLength="5.21" lengthAdjust="spacingAndGlyphs">θ</text>
<text class="s" x="548.9" y="243.2" font-family='"Liberation Sans",sans-serif' font-size="8.9" fill="#111">[</text>
<text class="s" x="559.3" y="243.2" font-family='"Liberation Sans",sans-serif' font-size="8.9" fill="#111">]</text>
<circle cx="555.15" cy="237.9" r="0.85" fill="none" stroke="#111" stroke-width="0.55"/>
<text class="s" transform="translate(374.1 165.6) rotate(-90) scale(1.2529 1)" x="-0.35" y="0" font-family='"Liberation Sans",sans-serif' font-size="8.3" fill="#111">dipole moment</text>
<text class="s" transform="translate(374.1 95.3) rotate(-90) scale(1.3481 1)" x="-0.6" y="0" font-family='"Liberation Sans",sans-serif' fill="#111"><tspan font-size="8.3" dy="0">[10</tspan><tspan font-size="5.81" dy="-3.1">−3</tspan><tspan font-size="8.3" dy="3.1" font-style="italic">ea</tspan><tspan font-size="5.81" dy="1.6">0</tspan><tspan font-size="8.3" dy="-1.6">]</tspan></text>
<line x1="62.45" y1="296.2" x2="62.45" y2="512" stroke="#b0b0b0" stroke-width="0.8"/>
<line x1="119.59" y1="296.2" x2="119.59" y2="512" stroke="#b0b0b0" stroke-width="0.8"/>
<line x1="176.73" y1="296.2" x2="176.73" y2="512" stroke="#b0b0b0" stroke-width="0.8"/>
<line x1="233.87" y1="296.2" x2="233.87" y2="512" stroke="#b0b0b0" stroke-width="0.8"/>
<line x1="291.01" y1="296.2" x2="291.01" y2="512" stroke="#b0b0b0" stroke-width="0.8"/>
<line x1="49.5" y1="319.88" x2="332.7" y2="319.88" stroke="#b0b0b0" stroke-width="0.8"/>
<line x1="49.5" y1="344.09" x2="332.7" y2="344.09" stroke="#b0b0b0" stroke-width="0.8"/>
<line x1="49.5" y1="368.3" x2="332.7" y2="368.3" stroke="#b0b0b0" stroke-width="0.8"/>
<line x1="49.5" y1="392.51" x2="332.7" y2="392.51" stroke="#b0b0b0" stroke-width="0.8"/>
<line x1="49.5" y1="416.72" x2="332.7" y2="416.72" stroke="#b0b0b0" stroke-width="0.8"/>
<line x1="49.5" y1="440.92" x2="332.7" y2="440.92" stroke="#b0b0b0" stroke-width="0.8"/>
<line x1="49.5" y1="465.13" x2="332.7" y2="465.13" stroke="#b0b0b0" stroke-width="0.8"/>
<line x1="49.5" y1="489.34" x2="332.7" y2="489.34" stroke="#b0b0b0" stroke-width="0.8"/>
<polyline points="62.45,499.15 65.31,499.11 68.16,498.96 71.02,498.73 73.88,498.4 76.73,497.98 79.59,497.46 82.45,496.86 85.31,496.16 88.16,495.37 91.02,494.5 93.88,493.53 96.73,492.48 99.59,491.35 102.45,490.14 105.31,488.84 108.16,487.46 111.02,486.01 113.88,484.48 116.73,482.88 119.59,481.21 122.45,479.47 125.3,477.67 128.16,475.8 131.02,473.88 133.88,471.89 136.73,469.85 139.59,467.76 142.45,465.62 145.3,463.44 148.16,461.21 151.02,458.94 153.87,456.64 156.73,454.3 159.59,451.93 162.44,449.53 165.3,447.11 168.16,444.67 171.02,442.21 173.87,439.74 176.73,437.26 179.59,434.76 182.44,432.27 185.3,429.77 188.16,427.27 191.01,424.77 193.87,422.29 196.73,419.81 199.59,417.35 202.44,414.9 205.3,412.47 208.16,410.07 211.01,407.69 213.87,405.33 216.73,403.01 219.59,400.72 222.44,398.46 225.3,396.25 228.16,394.07 231.01,391.94 233.87,389.85 236.73,387.8 239.58,385.81 242.44,383.87 245.3,381.98 248.16,380.15 251.01,378.37 253.87,376.66 256.73,375 259.58,373.41 262.44,371.88 265.3,370.41 268.15,369.01 271.01,367.68 273.87,366.42 276.73,365.23 279.58,364.11 282.44,363.07 285.3,362.1 288.15,361.2 291.01,360.38 293.87,359.63 296.72,358.96 299.58,358.37 302.44,357.85 305.3,357.42 308.15,357.06 311.01,356.78 313.87,356.59 316.72,356.47 319.58,356.43" fill="none" stroke="#1f77b4" stroke-width="1.12" stroke-dasharray="4.8 3.4"/>
<polyline points="62.45,502.87 65.31,502.82 68.16,502.68 71.02,502.44 73.88,502.11 76.73,501.69 79.59,501.17 82.45,500.56 85.31,499.85 88.16,499.06 91.02,498.18 93.88,497.21 96.73,496.15 99.59,495.01 102.45,493.79 105.31,492.48 108.16,491.1 111.02,489.63 113.88,488.1 116.73,486.49 119.59,484.81 122.45,483.06 125.3,481.24 128.16,479.37 131.02,477.43 133.88,475.44 136.73,473.39 139.59,471.29 142.45,469.14 145.3,466.95 148.16,464.72 151.02,462.44 153.87,460.13 156.73,457.79 159.59,455.41 162.44,453.01 165.3,450.59 168.16,448.15 171.02,445.69 173.87,443.21 176.73,440.73 179.59,438.24 182.44,435.74 185.3,433.24 188.16,430.75 191.01,428.26 193.87,425.78 196.73,423.31 199.59,420.85 202.44,418.42 205.3,416 208.16,413.6 211.01,411.23 213.87,408.89 216.73,406.58 219.59,404.3 222.44,402.06 225.3,399.86 228.16,397.7 231.01,395.58 233.87,393.51 236.73,391.48 239.58,389.5 242.44,387.58 245.3,385.71 248.16,383.89 251.01,382.14 253.87,380.44 256.73,378.8 259.58,377.22 262.44,375.71 265.3,374.26 268.15,372.88 271.01,371.56 273.87,370.32 276.73,369.14 279.58,368.04 282.44,367.01 285.3,366.05 288.15,365.16 291.01,364.35 293.87,363.61 296.72,362.95 299.58,362.37 302.44,361.86 305.3,361.43 308.15,361.08 311.01,360.81 313.87,360.61 316.72,360.49 319.58,360.45" fill="none" stroke="#2ca02c" stroke-width="1.12" stroke-dasharray="4.7 3.1 1 3.3 1 3.1"/>
<polyline points="62.45,481.83 65.31,481.78 68.16,481.64 71.02,481.39 73.88,481.05 76.73,480.62 79.59,480.08 82.45,479.46 85.31,478.74 88.16,477.92 91.02,477.02 93.88,476.02 96.73,474.94 99.59,473.77 102.45,472.52 105.31,471.18 108.16,469.76 111.02,468.27 113.88,466.7 116.73,465.05 119.59,463.34 122.45,461.55 125.3,459.7 128.16,457.79 131.02,455.82 133.88,453.79 136.73,451.71 139.59,449.57 142.45,447.39 145.3,445.17 148.16,442.9 151.02,440.6 153.87,438.26 156.73,435.89 159.59,433.49 162.44,431.07 165.3,428.63 168.16,426.17 171.02,423.69 173.87,421.21 176.73,418.71 179.59,416.21 182.44,413.71 185.3,411.21 188.16,408.72 191.01,406.23 193.87,403.75 196.73,401.29 199.59,398.85 202.44,396.42 205.3,394.02 208.16,391.64 211.01,389.29 213.87,386.98 216.73,384.69 219.59,382.44 222.44,380.23 225.3,378.06 228.16,375.93 231.01,373.85 233.87,371.81 236.73,369.82 239.58,367.89 242.44,366 245.3,364.17 248.16,362.4 251.01,360.68 253.87,359.02 256.73,357.42 259.58,355.89 262.44,354.42 265.3,353.01 268.15,351.67 271.01,350.39 273.87,349.18 276.73,348.04 279.58,346.97 282.44,345.98 285.3,345.05 288.15,344.19 291.01,343.41 293.87,342.7 296.72,342.06 299.58,341.49 302.44,341.01 305.3,340.59 308.15,340.25 311.01,339.99 313.87,339.8 316.72,339.68 319.58,339.65" fill="none" stroke="#ff7f0e" stroke-width="1.12" stroke-dasharray="4.8 3.4"/>
<polyline points="62.45,484.48 65.31,484.44 68.16,484.29 71.02,484.05 73.88,483.71 76.73,483.28 79.59,482.75 82.45,482.13 85.31,481.42 88.16,480.61 91.02,479.71 93.88,478.73 96.73,477.65 99.59,476.49 102.45,475.24 105.31,473.91 108.16,472.51 111.02,471.02 113.88,469.45 116.73,467.81 119.59,466.1 122.45,464.32 125.3,462.47 128.16,460.56 131.02,458.59 133.88,456.55 136.73,454.47 139.59,452.32 142.45,450.13 145.3,447.9 148.16,445.61 151.02,443.29 153.87,440.93 156.73,438.54 159.59,436.11 162.44,433.66 165.3,431.18 168.16,428.69 171.02,426.17 173.87,423.64 176.73,421.09 179.59,418.54 182.44,415.99 185.3,413.43 188.16,410.87 191.01,408.32 193.87,405.78 196.73,403.24 199.59,400.72 202.44,398.22 205.3,395.74 208.16,393.28 211.01,390.84 213.87,388.44 216.73,386.06 219.59,383.72 222.44,381.41 225.3,379.15 228.16,376.92 231.01,374.74 233.87,372.6 236.73,370.52 239.58,368.48 242.44,366.5 245.3,364.57 248.16,362.69 251.01,360.88 253.87,359.13 256.73,357.43 259.58,355.81 262.44,354.24 265.3,352.75 268.15,351.32 271.01,349.96 273.87,348.67 276.73,347.46 279.58,346.32 282.44,345.25 285.3,344.26 288.15,343.34 291.01,342.5 293.87,341.74 296.72,341.05 299.58,340.45 302.44,339.92 305.3,339.48 308.15,339.11 311.01,338.83 313.87,338.63 316.72,338.51 319.58,338.47" fill="none" stroke="#d62728" stroke-width="1.12" stroke-dasharray="4.7 3.1 1 3.3 1 3.1"/>
<polyline points="62.45,495.7 65.31,495.65 68.16,495.51 71.02,495.27 73.88,494.93 76.73,494.5 79.59,493.97 82.45,493.35 85.31,492.64 88.16,491.84 91.02,490.94 93.88,489.96 96.73,488.88 99.59,487.73 102.45,486.48 105.31,485.16 108.16,483.75 111.02,482.27 113.88,480.71 116.73,479.07 119.59,477.37 122.45,475.59 125.3,473.75 128.16,471.85 131.02,469.88 133.88,467.85 136.73,465.77 139.59,463.64 142.45,461.45 145.3,459.23 148.16,456.95 151.02,454.64 153.87,452.29 156.73,449.9 159.59,447.49 162.44,445.05 165.3,442.58 168.16,440.09 171.02,437.58 173.87,435.06 176.73,432.53 179.59,429.99 182.44,427.45 185.3,424.9 188.16,422.36 191.01,419.82 193.87,417.29 196.73,414.77 199.59,412.26 202.44,409.77 205.3,407.31 208.16,404.86 211.01,402.44 213.87,400.04 216.73,397.68 219.59,395.36 222.44,393.06 225.3,390.81 228.16,388.6 231.01,386.43 233.87,384.31 236.73,382.24 239.58,380.21 242.44,378.24 245.3,376.33 248.16,374.47 251.01,372.66 253.87,370.92 256.73,369.24 259.58,367.63 262.44,366.07 265.3,364.59 268.15,363.17 271.01,361.82 273.87,360.55 276.73,359.34 279.58,358.21 282.44,357.15 285.3,356.16 288.15,355.25 291.01,354.42 293.87,353.66 296.72,352.98 299.58,352.39 302.44,351.86 305.3,351.42 308.15,351.06 311.01,350.78 313.87,350.58 316.72,350.46 319.58,350.42" fill="none" stroke="#8c564b" stroke-width="1.12" stroke-dasharray="4.8 3.4"/>
<polyline points="62.45,446.44 65.31,446.4 68.16,446.26 71.02,446.04 73.88,445.73 76.73,445.32 79.59,444.83 82.45,444.25 85.31,443.59 88.16,442.84 91.02,442 93.88,441.08 96.73,440.08 99.59,438.99 102.45,437.83 105.31,436.58 108.16,435.27 111.02,433.87 113.88,432.41 116.73,430.87 119.59,429.26 122.45,427.59 125.3,425.86 128.16,424.06 131.02,422.2 133.88,420.29 136.73,418.32 139.59,416.29 142.45,414.22 145.3,412.11 148.16,409.95 151.02,407.74 153.87,405.5 156.73,403.23 159.59,400.92 162.44,398.58 165.3,396.22 168.16,393.83 171.02,391.43 173.87,389 176.73,386.56 179.59,384.11 182.44,381.65 185.3,379.19 188.16,376.73 191.01,374.26 193.87,371.8 196.73,369.35 199.59,366.91 202.44,364.47 205.3,362.06 208.16,359.66 211.01,357.29 213.87,354.94 216.73,352.62 219.59,350.32 222.44,348.06 225.3,345.84 228.16,343.65 231.01,341.5 233.87,339.39 236.73,337.33 239.58,335.32 242.44,333.36 245.3,331.45 248.16,329.59 251.01,327.79 253.87,326.04 256.73,324.36 259.58,322.73 262.44,321.18 265.3,319.68 268.15,318.25 271.01,316.89 273.87,315.61 276.73,314.39 279.58,313.24 282.44,312.17 285.3,311.17 288.15,310.25 291.01,309.41 293.87,308.64 296.72,307.95 299.58,307.34 302.44,306.82 305.3,306.37 308.15,306 311.01,305.71 313.87,305.51 316.72,305.38 319.58,305.34" fill="none" stroke="#e377c2" stroke-width="1.12" stroke-dasharray="4.7 3.1 1 3.3 1 3.1"/>
<polyline points="62.45,472.61 65.31,472.57 68.16,472.43 71.02,472.21 73.88,471.9 76.73,471.5 79.59,471.01 82.45,470.43 85.31,469.77 88.16,469.02 91.02,468.18 93.88,467.27 96.73,466.27 99.59,465.19 102.45,464.04 105.31,462.81 108.16,461.5 111.02,460.12 113.88,458.67 116.73,457.15 119.59,455.56 122.45,453.91 125.3,452.2 128.16,450.43 131.02,448.6 133.88,446.72 136.73,444.78 139.59,442.8 142.45,440.77 145.3,438.7 148.16,436.59 151.02,434.44 153.87,432.26 156.73,430.05 159.59,427.8 162.44,425.54 165.3,423.25 168.16,420.94 171.02,418.61 173.87,416.28 176.73,413.93 179.59,411.57 182.44,409.21 185.3,406.85 188.16,404.5 191.01,402.14 193.87,399.8 196.73,397.46 199.59,395.14 202.44,392.84 205.3,390.55 208.16,388.28 211.01,386.04 213.87,383.83 216.73,381.64 219.59,379.49 222.44,377.37 225.3,375.29 228.16,373.24 231.01,371.24 233.87,369.27 236.73,367.36 239.58,365.49 242.44,363.67 245.3,361.89 248.16,360.18 251.01,358.51 253.87,356.9 256.73,355.35 259.58,353.86 262.44,352.43 265.3,351.06 268.15,349.75 271.01,348.5 273.87,347.32 276.73,346.21 279.58,345.17 282.44,344.19 285.3,343.28 288.15,342.44 291.01,341.67 293.87,340.97 296.72,340.35 299.58,339.8 302.44,339.32 305.3,338.91 308.15,338.58 311.01,338.32 313.87,338.13 316.72,338.02 319.58,337.98" fill="none" stroke="#9467bd" stroke-width="1.12"/>
<path d="M62.45 495.58L59.2 502.08L65.7 502.08Z" fill="none" stroke="#1f77b4" stroke-width="1.05"/>
<path d="M148.16 458.59L144.91 465.09L151.41 465.09Z" fill="none" stroke="#1f77b4" stroke-width="1.05"/>
<path d="M191.01 421.6L187.76 428.1L194.26 428.1Z" fill="none" stroke="#1f77b4" stroke-width="1.05"/>
<path d="M233.87 385.87L230.62 392.37L237.12 392.37Z" fill="none" stroke="#1f77b4" stroke-width="1.05"/>
<path d="M319.58 353.53L316.33 360.03L322.83 360.03Z" fill="none" stroke="#1f77b4" stroke-width="1.05"/>
<path d="M62.45 499.55L59.2 506.05L65.7 506.05Z" fill="none" stroke="#2ca02c" stroke-width="1.05"/>
<path d="M148.16 461.59L144.91 468.09L151.41 468.09Z" fill="none" stroke="#2ca02c" stroke-width="1.05"/>
<path d="M191.01 425.08L187.76 431.58L194.26 431.58Z" fill="none" stroke="#2ca02c" stroke-width="1.05"/>
<path d="M233.87 390.03L230.62 396.53L237.12 396.53Z" fill="none" stroke="#2ca02c" stroke-width="1.05"/>
<path d="M319.58 357.3L316.33 363.8L322.83 363.8Z" fill="none" stroke="#2ca02c" stroke-width="1.05"/>
<path d="M59.2 481.2H65.7M62.45 477.95V484.45" fill="none" stroke="#ff7f0e" stroke-width="1.05"/>
<path d="M144.91 444.21H151.41M148.16 440.96V447.46" fill="none" stroke="#ff7f0e" stroke-width="1.05"/>
<path d="M187.76 406.06H194.26M191.01 402.81V409.31" fill="none" stroke="#ff7f0e" stroke-width="1.05"/>
<path d="M230.62 370.72H237.12M233.87 367.47V373.97" fill="none" stroke="#ff7f0e" stroke-width="1.05"/>
<path d="M316.33 340.22H322.83M319.58 336.97V343.47" fill="none" stroke="#ff7f0e" stroke-width="1.05"/>
<path d="M59.2 484.4H65.7M62.45 481.15V487.65" fill="none" stroke="#d62728" stroke-width="1.05"/>
<path d="M144.91 445.57H151.41M148.16 442.32V448.82" fill="none" stroke="#d62728" stroke-width="1.05"/>
<path d="M187.76 408.97H194.26M191.01 405.72V412.22" fill="none" stroke="#d62728" stroke-width="1.05"/>
<path d="M230.62 371.79H237.12M233.87 368.54V375.04" fill="none" stroke="#d62728" stroke-width="1.05"/>
<path d="M316.33 338.77H322.83M319.58 335.52V342.02" fill="none" stroke="#d62728" stroke-width="1.05"/>
<path d="M62.45 491.23L65.21 495.83L62.45 500.42L59.69 495.83Z" fill="none" stroke="#8c564b" stroke-width="1.05"/>
<path d="M148.16 452.01L150.92 456.61L148.16 461.2L145.4 456.61Z" fill="none" stroke="#8c564b" stroke-width="1.05"/>
<path d="M191.01 415.51L193.77 420.1L191.01 424.7L188.26 420.1Z" fill="none" stroke="#8c564b" stroke-width="1.05"/>
<path d="M233.87 379.68L236.63 384.28L233.87 388.87L231.11 384.28Z" fill="none" stroke="#8c564b" stroke-width="1.05"/>
<path d="M319.58 345.79L322.34 350.39L319.58 354.98L316.82 350.39Z" fill="none" stroke="#8c564b" stroke-width="1.05"/>
<path d="M62.45 441.56L65.21 446.15L62.45 450.75L59.69 446.15Z" fill="none" stroke="#e377c2" stroke-width="1.05"/>
<path d="M148.16 406.12L150.92 410.71L148.16 415.31L145.4 410.71Z" fill="none" stroke="#e377c2" stroke-width="1.05"/>
<path d="M191.01 369.13L193.77 373.72L191.01 378.32L188.26 373.72Z" fill="none" stroke="#e377c2" stroke-width="1.05"/>
<path d="M233.87 334.75L236.63 339.35L233.87 343.94L231.11 339.35Z" fill="none" stroke="#e377c2" stroke-width="1.05"/>
<path d="M319.58 300.86L322.34 305.46L319.58 310.05L316.82 305.46Z" fill="none" stroke="#e377c2" stroke-width="1.05"/>
<circle cx="62.45" cy="472.59" r="3.25" fill="none" stroke="#9467bd" stroke-width="1.05"/>
<circle cx="148.16" cy="436.57" r="3.25" fill="none" stroke="#9467bd" stroke-width="1.05"/>
<circle cx="191.01" cy="402.38" r="3.25" fill="none" stroke="#9467bd" stroke-width="1.05"/>
<circle cx="233.87" cy="368.98" r="3.25" fill="none" stroke="#9467bd" stroke-width="1.05"/>
<circle cx="319.58" cy="338.09" r="3.25" fill="none" stroke="#9467bd" stroke-width="1.05"/>
<rect x="49.5" y="296.2" width="283.2" height="215.8" fill="none" stroke="#000000" stroke-width="0.8"/>
<line x1="62.45" y1="512" x2="62.45" y2="515" stroke="#000000" stroke-width="0.8"/>
<text x="59.88" y="524.9" font-family='"Liberation Sans",sans-serif' font-size="8.9" class="s" fill="#111" textLength="5.12" lengthAdjust="spacingAndGlyphs">0</text>
<line x1="119.59" y1="512" x2="119.59" y2="515" stroke="#000000" stroke-width="0.8"/>
<text x="114.2" y="524.9" font-family='"Liberation Sans",sans-serif' font-size="8.9" class="s" fill="#111" textLength="10.74" lengthAdjust="spacingAndGlyphs">20</text>
<line x1="176.73" y1="512" x2="176.73" y2="515" stroke="#000000" stroke-width="0.8"/>
<text x="171.41" y="524.9" font-family='"Liberation Sans",sans-serif' font-size="8.9" class="s" fill="#111" textLength="10.67" lengthAdjust="spacingAndGlyphs">40</text>
<line x1="233.87" y1="512" x2="233.87" y2="515" stroke="#000000" stroke-width="0.8"/>
<text x="228.46" y="524.9" font-family='"Liberation Sans",sans-serif' font-size="8.9" class="s" fill="#111" textLength="10.77" lengthAdjust="spacingAndGlyphs">60</text>
<line x1="291.01" y1="512" x2="291.01" y2="515" stroke="#000000" stroke-width="0.8"/>
<text x="285.65" y="524.9" font-family='"Liberation Sans",sans-serif' font-size="8.9" class="s" fill="#111" textLength="10.71" lengthAdjust="spacingAndGlyphs">80</text>
<line x1="46.5" y1="319.88" x2="49.5" y2="319.88" stroke="#000000" stroke-width="0.8"/>
<text x="23.43" y="323.49" font-family='"Liberation Sans",sans-serif' font-size="8.9" class="s" fill="#111" textLength="19" lengthAdjust="spacingAndGlyphs">0.50</text>
<line x1="46.5" y1="344.09" x2="49.5" y2="344.09" stroke="#000000" stroke-width="0.8"/>
<text x="23.61" y="347.69" font-family='"Liberation Sans",sans-serif' font-size="8.9" class="s" fill="#111" textLength="18.84" lengthAdjust="spacingAndGlyphs">0.25</text>
<line x1="46.5" y1="368.3" x2="49.5" y2="368.3" stroke="#000000" stroke-width="0.8"/>
<text x="23.43" y="371.9" font-family='"Liberation Sans",sans-serif' font-size="8.9" class="s" fill="#111" textLength="19" lengthAdjust="spacingAndGlyphs">0.00</text>
<line x1="46.5" y1="392.51" x2="49.5" y2="392.51" stroke="#000000" stroke-width="0.8"/>
<text x="23.61" y="396.11" font-family='"Liberation Sans",sans-serif' font-size="8.9" class="s" fill="#111" textLength="18.84" lengthAdjust="spacingAndGlyphs">0.25</text>
<rect x="17.05" y="393.19" width="5.45" height="0.82" fill="#111"/>
<line x1="46.5" y1="416.72" x2="49.5" y2="416.72" stroke="#000000" stroke-width="0.8"/>
<text x="23.43" y="420.32" font-family='"Liberation Sans",sans-serif' font-size="8.9" class="s" fill="#111" textLength="19" lengthAdjust="spacingAndGlyphs">0.50</text>
<rect x="16.88" y="417.4" width="5.45" height="0.82" fill="#111"/>
<line x1="46.5" y1="440.92" x2="49.5" y2="440.92" stroke="#000000" stroke-width="0.8"/>
<text x="23.61" y="444.52" font-family='"Liberation Sans",sans-serif' font-size="8.9" class="s" fill="#111" textLength="18.84" lengthAdjust="spacingAndGlyphs">0.75</text>
<rect x="17.05" y="441.6" width="5.45" height="0.82" fill="#111"/>
<line x1="46.5" y1="465.13" x2="49.5" y2="465.13" stroke="#000000" stroke-width="0.8"/>
<text x="23.49" y="468.73" font-family='"Liberation Sans",sans-serif' font-size="8.9" class="s" fill="#111" textLength="18.94" lengthAdjust="spacingAndGlyphs">1.00</text>
<rect x="16.88" y="465.81" width="5.45" height="0.82" fill="#111"/>
<line x1="46.5" y1="489.34" x2="49.5" y2="489.34" stroke="#000000" stroke-width="0.8"/>
<text x="23.67" y="492.94" font-family='"Liberation Sans",sans-serif' font-size="8.9" class="s" fill="#111" textLength="18.78" lengthAdjust="spacingAndGlyphs">1.25</text>
<rect x="17.05" y="490.02" width="5.45" height="0.82" fill="#111"/>
<text x="180.42" y="538.6" font-family='"Liberation Sans",sans-serif' font-size="8.9" font-style="italic" class="s" fill="#111" textLength="5.21" lengthAdjust="spacingAndGlyphs">θ</text>
<text class="s" x="189.3" y="538.6" font-family='"Liberation Sans",sans-serif' font-size="8.9" fill="#111">[</text>
<text class="s" x="199.7" y="538.6" font-family='"Liberation Sans",sans-serif' font-size="8.9" fill="#111">]</text>
<circle cx="195.55" cy="533.3" r="0.85" fill="none" stroke="#111" stroke-width="0.55"/>
<text class="s" transform="translate(7.9 461.1) rotate(-90) scale(1.2529 1)" x="-0.35" y="0" font-family='"Liberation Sans",sans-serif' font-size="8.3" fill="#111">dipole moment</text>
<text class="s" transform="translate(7.9 390.8) rotate(-90) scale(1.3481 1)" x="-0.6" y="0" font-family='"Liberation Sans",sans-serif' fill="#111"><tspan font-size="8.3" dy="0">[10</tspan><tspan font-size="5.81" dy="-3.1">−3</tspan><tspan font-size="8.3" dy="3.1" font-style="italic">ea</tspan><tspan font-size="5.81" dy="1.6">0</tspan><tspan font-size="8.3" dy="-1.6">]</tspan></text>
<line x1="415.7" y1="296.1" x2="415.7" y2="511.8" stroke="#b0b0b0" stroke-width="0.8"/>
<line x1="475.62" y1="296.1" x2="475.62" y2="511.8" stroke="#b0b0b0" stroke-width="0.8"/>
<line x1="535.54" y1="296.1" x2="535.54" y2="511.8" stroke="#b0b0b0" stroke-width="0.8"/>
<line x1="595.46" y1="296.1" x2="595.46" y2="511.8" stroke="#b0b0b0" stroke-width="0.8"/>
<line x1="655.38" y1="296.1" x2="655.38" y2="511.8" stroke="#b0b0b0" stroke-width="0.8"/>
<line x1="402.4" y1="502.2" x2="699" y2="502.2" stroke="#b0b0b0" stroke-width="0.8"/>
<line x1="402.4" y1="460.05" x2="699" y2="460.05" stroke="#b0b0b0" stroke-width="0.8"/>
<line x1="402.4" y1="417.9" x2="699" y2="417.9" stroke="#b0b0b0" stroke-width="0.8"/>
<line x1="402.4" y1="375.75" x2="699" y2="375.75" stroke="#b0b0b0" stroke-width="0.8"/>
<line x1="402.4" y1="333.6" x2="699" y2="333.6" stroke="#b0b0b0" stroke-width="0.8"/>
<polyline points="415.7,502.2 418.7,495.64 421.69,489.09 424.69,482.56 427.68,476.05 430.68,469.58 433.68,463.16 436.67,456.78 439.67,450.47 442.66,444.22 445.66,438.06 448.66,431.98 451.65,426 454.65,420.11 457.64,414.34 460.64,408.68 463.64,403.15 466.63,397.75 469.63,392.49 472.62,387.38 475.62,382.42 478.62,377.61 481.61,372.97 484.61,368.5 487.6,364.21 490.6,360.09 493.6,356.16 496.59,352.42 499.59,348.88 502.58,345.53 505.58,342.39 508.58,339.45 511.57,336.72 514.57,334.2 517.56,331.89 520.56,329.8 523.56,327.93 526.55,326.28 529.55,324.85 532.54,323.64 535.54,322.66 538.54,321.89 541.53,321.35 544.53,321.04 547.52,320.94 550.52,321.07 553.52,321.42 556.51,321.98 559.51,322.77 562.5,323.77 565.5,324.99 568.5,326.41 571.49,328.05 574.49,329.89 577.48,331.94 580.48,334.18 583.48,336.63 586.47,339.26 589.47,342.09 592.46,345.1 595.46,348.29 598.46,351.65 601.45,355.19 604.45,358.9 607.44,362.77 610.44,366.8 613.44,370.98 616.43,375.31 619.43,379.78 622.42,384.39 625.42,389.13 628.42,393.99 631.41,398.97 634.41,404.07 637.4,409.28 640.4,414.59 643.4,419.99 646.39,425.48 649.39,431.06 652.38,436.71 655.38,442.44 658.38,448.23 661.37,454.08 664.37,459.98 667.36,465.93 670.36,471.91 673.36,477.93 676.35,483.98 679.35,490.04 682.34,496.12 685.34,502.2" fill="none" stroke="#1f77b4" stroke-width="1.12" stroke-dasharray="4.8 3.4"/>
<polyline points="415.7,502.2 418.7,495.88 421.69,489.56 424.69,483.27 427.68,477 430.68,470.76 433.68,464.57 436.67,458.42 439.67,452.34 442.66,446.32 445.66,440.38 448.66,434.52 451.65,428.76 454.65,423.09 457.64,417.53 460.64,412.08 463.64,406.75 466.63,401.55 469.63,396.48 472.62,391.56 475.62,386.78 478.62,382.15 481.61,377.68 484.61,373.38 487.6,369.25 490.6,365.29 493.6,361.51 496.59,357.91 499.59,354.5 502.58,351.28 505.58,348.26 508.58,345.44 511.57,342.82 514.57,340.4 517.56,338.18 520.56,336.18 523.56,334.39 526.55,332.8 529.55,331.43 532.54,330.28 535.54,329.34 538.54,328.61 541.53,328.1 544.53,327.81 547.52,327.72 550.52,327.86 553.52,328.2 556.51,328.75 559.51,329.52 562.5,330.49 565.5,331.67 568.5,333.05 571.49,334.63 574.49,336.41 577.48,338.39 580.48,340.56 583.48,342.92 586.47,345.46 589.47,348.18 592.46,351.09 595.46,354.16 598.46,357.41 601.45,360.82 604.45,364.39 607.44,368.12 610.44,372 613.44,376.02 616.43,380.19 619.43,384.49 622.42,388.93 625.42,393.49 628.42,398.17 631.41,402.96 634.41,407.87 637.4,412.87 640.4,417.98 643.4,423.17 646.39,428.46 649.39,433.82 652.38,439.26 655.38,444.76 658.38,450.33 661.37,455.95 664.37,461.62 667.36,467.34 670.36,473.09 673.36,478.87 676.35,484.68 679.35,490.51 682.34,496.35 685.34,502.2" fill="none" stroke="#2ca02c" stroke-width="1.12" stroke-dasharray="4.7 3.1 1 3.3 1 3.1"/>
<polyline points="415.7,502.2 418.7,495.41 421.69,488.62 424.69,481.85 427.68,475.11 430.68,468.41 433.68,461.75 436.67,455.15 439.67,448.61 442.66,442.14 445.66,435.75 448.66,429.44 451.65,423.24 454.65,417.14 457.64,411.15 460.64,405.28 463.64,399.54 466.63,393.94 469.63,388.48 472.62,383.17 475.62,378.01 478.62,373.02 481.61,368.2 484.61,363.55 487.6,359.08 490.6,354.8 493.6,350.7 496.59,346.81 499.59,343.11 502.58,339.62 505.58,336.34 508.58,333.27 511.57,330.41 514.57,327.78 517.56,325.36 520.56,323.17 523.56,321.2 526.55,319.47 529.55,317.95 532.54,316.67 535.54,315.62 538.54,314.81 541.53,314.22 544.53,313.86 547.52,313.74 550.52,313.85 553.52,314.18 556.51,314.74 559.51,315.53 562.5,316.55 565.5,317.79 568.5,319.25 571.49,320.93 574.49,322.82 577.48,324.92 580.48,327.24 583.48,329.76 586.47,332.48 589.47,335.4 592.46,338.52 595.46,341.82 598.46,345.31 601.45,348.98 604.45,352.83 607.44,356.84 610.44,361.03 613.44,365.37 616.43,369.87 619.43,374.52 622.42,379.31 625.42,384.24 628.42,389.31 631.41,394.5 634.41,399.81 637.4,405.23 640.4,410.76 643.4,416.4 646.39,422.12 649.39,427.94 652.38,433.84 655.38,439.81 658.38,445.85 661.37,451.96 664.37,458.12 667.36,464.33 670.36,470.57 673.36,476.86 676.35,483.17 679.35,489.5 682.34,495.85 685.34,502.2" fill="none" stroke="#ff7f0e" stroke-width="1.12" stroke-dasharray="4.8 3.4"/>
<polyline points="415.7,502.2 418.7,495.08 421.69,487.96 424.69,480.87 427.68,473.8 430.68,466.77 433.68,459.79 436.67,452.87 439.67,446.01 442.66,439.23 445.66,432.53 448.66,425.92 451.65,419.42 454.65,413.03 457.64,406.75 460.64,400.6 463.64,394.59 466.63,388.71 469.63,382.99 472.62,377.43 475.62,372.02 478.62,366.79 481.61,361.74 484.61,356.87 487.6,352.19 490.6,347.71 493.6,343.42 496.59,339.34 499.59,335.47 502.58,331.82 505.58,328.38 508.58,325.17 511.57,322.19 514.57,319.43 517.56,316.9 520.56,314.61 523.56,312.56 526.55,310.74 529.55,309.16 532.54,307.83 535.54,306.73 538.54,305.88 541.53,305.27 544.53,304.91 547.52,304.78 550.52,304.9 553.52,305.26 556.51,305.86 559.51,306.69 562.5,307.76 565.5,309.06 568.5,310.6 571.49,312.36 574.49,314.35 577.48,316.56 580.48,318.99 583.48,321.64 586.47,324.49 589.47,327.55 592.46,330.82 595.46,334.29 598.46,337.94 601.45,341.79 604.45,345.82 607.44,350.03 610.44,354.42 613.44,358.97 616.43,363.68 619.43,368.55 622.42,373.57 625.42,378.73 628.42,384.04 631.41,389.47 634.41,395.03 637.4,400.71 640.4,406.5 643.4,412.4 646.39,418.4 649.39,424.48 652.38,430.66 655.38,436.91 658.38,443.23 661.37,449.62 664.37,456.07 667.36,462.57 670.36,469.1 673.36,475.68 676.35,482.29 679.35,488.91 682.34,495.55 685.34,502.2" fill="none" stroke="#d62728" stroke-width="1.12" stroke-dasharray="4.7 3.1 1 3.3 1 3.1"/>
<polyline points="415.7,502.2 418.7,495.91 421.69,489.63 424.69,483.37 427.68,477.13 430.68,470.92 433.68,464.75 436.67,458.63 439.67,452.57 442.66,446.57 445.66,440.65 448.66,434.8 451.65,429.04 454.65,423.38 457.64,417.81 460.64,412.36 463.64,407.02 466.63,401.8 469.63,396.72 472.62,391.76 475.62,386.95 478.62,382.29 481.61,377.78 484.61,373.43 487.6,369.24 490.6,365.22 493.6,361.38 496.59,357.71 499.59,354.23 502.58,350.93 505.58,347.82 508.58,344.91 511.57,342.2 514.57,339.69 517.56,337.38 520.56,335.27 523.56,333.37 526.55,331.69 529.55,330.21 532.54,328.95 535.54,327.9 538.54,327.07 541.53,326.45 544.53,326.05 547.52,325.86 550.52,325.89 553.52,326.13 556.51,326.59 559.51,327.26 562.5,328.14 565.5,329.23 568.5,330.53 571.49,332.04 574.49,333.75 577.48,335.66 580.48,337.77 583.48,340.08 586.47,342.58 589.47,345.27 592.46,348.14 595.46,351.2 598.46,354.43 601.45,357.84 604.45,361.41 607.44,365.15 610.44,369.06 613.44,373.11 616.43,377.32 619.43,381.67 622.42,386.16 625.42,390.79 628.42,395.54 631.41,400.42 634.41,405.41 637.4,410.52 640.4,415.73 643.4,421.04 646.39,426.44 649.39,431.93 652.38,437.51 655.38,443.15 658.38,448.86 661.37,454.63 664.37,460.46 667.36,466.33 670.36,472.25 673.36,478.2 676.35,484.18 679.35,490.17 682.34,496.18 685.34,502.2" fill="none" stroke="#8c564b" stroke-width="1.12" stroke-dasharray="4.8 3.4"/>
<polyline points="415.7,502.2 418.7,495.12 421.69,488.05 424.69,481 427.68,473.98 430.68,467 433.68,460.06 436.67,453.18 439.67,446.36 442.66,439.61 445.66,432.95 448.66,426.38 451.65,419.9 454.65,413.54 457.64,407.29 460.64,401.16 463.64,395.16 466.63,389.31 469.63,383.6 472.62,378.04 475.62,372.65 478.62,367.42 481.61,362.37 484.61,357.5 487.6,352.81 490.6,348.31 493.6,344.01 496.59,339.92 499.59,336.03 502.58,332.35 505.58,328.89 508.58,325.65 511.57,322.63 514.57,319.84 517.56,317.27 520.56,314.94 523.56,312.85 526.55,310.99 529.55,309.36 532.54,307.98 535.54,306.84 538.54,305.94 541.53,305.28 544.53,304.86 547.52,304.69 550.52,304.76 553.52,305.06 556.51,305.61 559.51,306.39 562.5,307.42 565.5,308.67 568.5,310.16 571.49,311.88 574.49,313.82 577.48,315.99 580.48,318.38 583.48,320.99 586.47,323.82 589.47,326.85 592.46,330.09 595.46,333.53 598.46,337.16 601.45,340.99 604.45,345.01 607.44,349.21 610.44,353.59 613.44,358.13 616.43,362.85 619.43,367.72 622.42,372.75 625.42,377.92 628.42,383.24 631.41,388.69 634.41,394.27 637.4,399.98 640.4,405.8 643.4,411.72 646.39,417.76 649.39,423.88 652.38,430.1 655.38,436.39 658.38,442.76 661.37,449.2 664.37,455.69 667.36,462.24 670.36,468.83 673.36,475.46 676.35,482.12 679.35,488.8 682.34,495.5 685.34,502.2" fill="none" stroke="#e377c2" stroke-width="1.12" stroke-dasharray="4.7 3.1 1 3.3 1 3.1"/>
<polyline points="415.7,502.2 418.7,495.63 421.69,489.07 424.69,482.53 427.68,476.01 430.68,469.53 433.68,463.09 436.67,456.71 439.67,450.38 442.66,444.13 445.66,437.95 448.66,431.86 451.65,425.86 454.65,419.96 457.64,414.18 460.64,408.51 463.64,402.96 466.63,397.55 469.63,392.27 472.62,387.14 475.62,382.16 478.62,377.33 481.61,372.68 484.61,368.19 487.6,363.87 490.6,359.74 493.6,355.79 496.59,352.03 499.59,348.46 502.58,345.09 505.58,341.92 508.58,338.96 511.57,336.21 514.57,333.67 517.56,331.34 520.56,329.23 523.56,327.34 526.55,325.66 529.55,324.21 532.54,322.98 535.54,321.98 538.54,321.19 541.53,320.63 544.53,320.3 547.52,320.18 550.52,320.29 553.52,320.63 556.51,321.18 559.51,321.95 562.5,322.94 565.5,324.14 568.5,325.56 571.49,327.18 574.49,329.02 577.48,331.06 580.48,333.3 583.48,335.74 586.47,338.37 589.47,341.2 592.46,344.21 595.46,347.4 598.46,350.78 601.45,354.33 604.45,358.04 607.44,361.93 610.44,365.97 613.44,370.16 616.43,374.51 619.43,379 622.42,383.63 625.42,388.39 628.42,393.28 631.41,398.29 634.41,403.41 637.4,408.65 640.4,413.99 643.4,419.42 646.39,424.95 649.39,430.56 652.38,436.25 655.38,442.02 658.38,447.85 661.37,453.74 664.37,459.68 667.36,465.67 670.36,471.69 673.36,477.76 676.35,483.84 679.35,489.95 682.34,496.07 685.34,502.2" fill="none" stroke="#9467bd" stroke-width="1.12"/>
<path d="M415.7 498.95L412.45 505.45L418.95 505.45Z" fill="none" stroke="#1f77b4" stroke-width="1.05"/>
<path d="M505.58 339.2L502.33 345.7L508.83 345.7Z" fill="none" stroke="#1f77b4" stroke-width="1.05"/>
<path d="M550.52 317.7L547.27 324.2L553.77 324.2Z" fill="none" stroke="#1f77b4" stroke-width="1.05"/>
<path d="M595.46 345.1L592.21 351.6L598.71 351.6Z" fill="none" stroke="#1f77b4" stroke-width="1.05"/>
<path d="M685.34 498.95L682.09 505.45L688.59 505.45Z" fill="none" stroke="#1f77b4" stroke-width="1.05"/>
<path d="M415.7 498.95L412.45 505.45L418.95 505.45Z" fill="none" stroke="#2ca02c" stroke-width="1.05"/>
<path d="M505.58 345.1L502.33 351.6L508.83 351.6Z" fill="none" stroke="#2ca02c" stroke-width="1.05"/>
<path d="M550.52 324.45L547.27 330.95L553.77 330.95Z" fill="none" stroke="#2ca02c" stroke-width="1.05"/>
<path d="M595.46 351L592.21 357.5L598.71 357.5Z" fill="none" stroke="#2ca02c" stroke-width="1.05"/>
<path d="M685.34 498.95L682.09 505.45L688.59 505.45Z" fill="none" stroke="#2ca02c" stroke-width="1.05"/>
<path d="M412.45 502.2H418.95M415.7 498.95V505.45" fill="none" stroke="#ff7f0e" stroke-width="1.05"/>
<path d="M502.33 336.13H508.83M505.58 332.88V339.38" fill="none" stroke="#ff7f0e" stroke-width="1.05"/>
<path d="M547.27 314.21H553.77M550.52 310.96V317.46" fill="none" stroke="#ff7f0e" stroke-width="1.05"/>
<path d="M592.21 341.61H598.71M595.46 338.36V344.86" fill="none" stroke="#ff7f0e" stroke-width="1.05"/>
<path d="M682.09 502.2H688.59M685.34 498.95V505.45" fill="none" stroke="#ff7f0e" stroke-width="1.05"/>
<path d="M412.45 502.2H418.95M415.7 498.95V505.45" fill="none" stroke="#d62728" stroke-width="1.05"/>
<path d="M502.33 328.12H508.83M505.58 324.87V331.37" fill="none" stroke="#d62728" stroke-width="1.05"/>
<path d="M547.27 305.36H553.77M550.52 302.11V308.61" fill="none" stroke="#d62728" stroke-width="1.05"/>
<path d="M592.21 334.02H598.71M595.46 330.77V337.27" fill="none" stroke="#d62728" stroke-width="1.05"/>
<path d="M682.09 502.2H688.59M685.34 498.95V505.45" fill="none" stroke="#d62728" stroke-width="1.05"/>
<path d="M415.7 497.6L418.46 502.2L415.7 506.8L412.94 502.2Z" fill="none" stroke="#8c564b" stroke-width="1.05"/>
<path d="M505.58 342.91L508.34 347.51L505.58 352.11L502.82 347.51Z" fill="none" stroke="#8c564b" stroke-width="1.05"/>
<path d="M550.52 321.84L553.28 326.43L550.52 331.03L547.76 326.43Z" fill="none" stroke="#8c564b" stroke-width="1.05"/>
<path d="M595.46 346.29L598.22 350.88L595.46 355.48L592.7 350.88Z" fill="none" stroke="#8c564b" stroke-width="1.05"/>
<path d="M685.34 497.6L688.1 502.2L685.34 506.8L682.58 502.2Z" fill="none" stroke="#8c564b" stroke-width="1.05"/>
<path d="M415.7 497.6L418.46 502.2L415.7 506.8L412.94 502.2Z" fill="none" stroke="#e377c2" stroke-width="1.05"/>
<path d="M505.58 323.95L508.34 328.54L505.58 333.14L502.82 328.54Z" fill="none" stroke="#e377c2" stroke-width="1.05"/>
<path d="M550.52 300.76L553.28 305.36L550.52 309.95L547.76 305.36Z" fill="none" stroke="#e377c2" stroke-width="1.05"/>
<path d="M595.46 328.58L598.22 333.18L595.46 337.77L592.7 333.18Z" fill="none" stroke="#e377c2" stroke-width="1.05"/>
<path d="M685.34 497.6L688.1 502.2L685.34 506.8L682.58 502.2Z" fill="none" stroke="#e377c2" stroke-width="1.05"/>
<circle cx="415.7" cy="502.2" r="3.25" fill="none" stroke="#9467bd" stroke-width="1.05"/>
<circle cx="505.58" cy="342.03" r="3.25" fill="none" stroke="#9467bd" stroke-width="1.05"/>
<circle cx="550.52" cy="320.11" r="3.25" fill="none" stroke="#9467bd" stroke-width="1.05"/>
<circle cx="595.46" cy="347.51" r="3.25" fill="none" stroke="#9467bd" stroke-width="1.05"/>
<circle cx="685.34" cy="502.2" r="3.25" fill="none" stroke="#9467bd" stroke-width="1.05"/>
<rect x="402.4" y="296.1" width="296.6" height="215.7" fill="none" stroke="#000000" stroke-width="0.8"/>
<line x1="415.7" y1="511.8" x2="415.7" y2="514.8" stroke="#000000" stroke-width="0.8"/>
<text x="413.13" y="524.7" font-family='"Liberation Sans",sans-serif' font-size="8.9" class="s" fill="#111" textLength="5.12" lengthAdjust="spacingAndGlyphs">0</text>
<line x1="475.62" y1="511.8" x2="475.62" y2="514.8" stroke="#000000" stroke-width="0.8"/>
<text x="470.23" y="524.7" font-family='"Liberation Sans",sans-serif' font-size="8.9" class="s" fill="#111" textLength="10.74" lengthAdjust="spacingAndGlyphs">20</text>
<line x1="535.54" y1="511.8" x2="535.54" y2="514.8" stroke="#000000" stroke-width="0.8"/>
<text x="530.22" y="524.7" font-family='"Liberation Sans",sans-serif' font-size="8.9" class="s" fill="#111" textLength="10.67" lengthAdjust="spacingAndGlyphs">40</text>
<line x1="595.46" y1="511.8" x2="595.46" y2="514.8" stroke="#000000" stroke-width="0.8"/>
<text x="590.05" y="524.7" font-family='"Liberation Sans",sans-serif' font-size="8.9" class="s" fill="#111" textLength="10.77" lengthAdjust="spacingAndGlyphs">60</text>
<line x1="655.38" y1="511.8" x2="655.38" y2="514.8" stroke="#000000" stroke-width="0.8"/>
<text x="650.02" y="524.7" font-family='"Liberation Sans",sans-serif' font-size="8.9" class="s" fill="#111" textLength="10.71" lengthAdjust="spacingAndGlyphs">80</text>
<line x1="399.4" y1="502.2" x2="402.4" y2="502.2" stroke="#000000" stroke-width="0.8"/>
<text x="381.86" y="505.8" font-family='"Liberation Sans",sans-serif' font-size="8.9" class="s" fill="#111" textLength="13.45" lengthAdjust="spacingAndGlyphs">0.0</text>
<line x1="399.4" y1="460.05" x2="402.4" y2="460.05" stroke="#000000" stroke-width="0.8"/>
<text x="382.08" y="463.65" font-family='"Liberation Sans",sans-serif' font-size="8.9" class="s" fill="#111" textLength="13.33" lengthAdjust="spacingAndGlyphs">0.1</text>
<line x1="399.4" y1="417.9" x2="402.4" y2="417.9" stroke="#000000" stroke-width="0.8"/>
<text x="382.17" y="421.5" font-family='"Liberation Sans",sans-serif' font-size="8.9" class="s" fill="#111" textLength="13.26" lengthAdjust="spacingAndGlyphs">0.2</text>
<line x1="399.4" y1="375.75" x2="402.4" y2="375.75" stroke="#000000" stroke-width="0.8"/>
<text x="381.99" y="379.35" font-family='"Liberation Sans",sans-serif' font-size="8.9" class="s" fill="#111" textLength="13.37" lengthAdjust="spacingAndGlyphs">0.3</text>
<line x1="399.4" y1="333.6" x2="402.4" y2="333.6" stroke="#000000" stroke-width="0.8"/>
<text x="381.77" y="337.2" font-family='"Liberation Sans",sans-serif' font-size="8.9" class="s" fill="#111" textLength="13.44" lengthAdjust="spacingAndGlyphs">0.4</text>
<text x="540.02" y="538.4" font-family='"Liberation Sans",sans-serif' font-size="8.9" font-style="italic" class="s" fill="#111" textLength="5.21" lengthAdjust="spacingAndGlyphs">θ</text>
<text class="s" x="548.9" y="538.4" font-family='"Liberation Sans",sans-serif' font-size="8.9" fill="#111">[</text>
<text class="s" x="559.3" y="538.4" font-family='"Liberation Sans",sans-serif' font-size="8.9" fill="#111">]</text>
<circle cx="555.15" cy="533.1" r="0.85" fill="none" stroke="#111" stroke-width="0.55"/>
<text class="s" transform="translate(374.1 460.95) rotate(-90) scale(1.2529 1)" x="-0.35" y="0" font-family='"Liberation Sans",sans-serif' font-size="8.3" fill="#111">dipole moment</text>
<text class="s" transform="translate(374.1 390.65) rotate(-90) scale(1.3481 1)" x="-0.6" y="0" font-family='"Liberation Sans",sans-serif' fill="#111"><tspan font-size="8.3" dy="0">[10</tspan><tspan font-size="5.81" dy="-3.1">−3</tspan><tspan font-size="8.3" dy="3.1" font-style="italic">ea</tspan><tspan font-size="5.81" dy="1.6">0</tspan><tspan font-size="8.3" dy="-1.6">]</tspan></text>
<rect x="53.4" y="300" width="85.2" height="80.8" rx="2" fill="#ffffff" fill-opacity="0.8" stroke="#cccccc" stroke-width="0.8"/>
<path d="M63.8 303.65L60.55 310.15L67.05 310.15Z" fill="none" stroke="#1f77b4" stroke-width="1.05"/>
<text x="77.58" y="308.8" font-family='"Liberation Sans",sans-serif' font-size="7.9" class="s" fill="#111" textLength="37.17" lengthAdjust="spacingAndGlyphs">propSAPT</text>
<path d="M63.8 314.85L60.55 321.35L67.05 321.35Z" fill="none" stroke="#2ca02c" stroke-width="1.05"/>
<text x="77.58" y="320" font-family='"Liberation Sans",sans-serif' font-size="7.9" class="s" fill="#111" textLength="57.74" lengthAdjust="spacingAndGlyphs">propSAPT(DFT)</text>
<path d="M60.55 329.3H67.05M63.8 326.05V332.55" fill="none" stroke="#ff7f0e" stroke-width="1.05"/>
<text x="77.48" y="331.2" font-family='"Liberation Sans",sans-serif' font-size="7.9" class="s" fill="#111" textLength="31.37" lengthAdjust="spacingAndGlyphs">FF-SAPT</text>
<path d="M60.55 340.5H67.05M63.8 337.25V343.75" fill="none" stroke="#d62728" stroke-width="1.05"/>
<text x="77.47" y="342.4" font-family='"Liberation Sans",sans-serif' font-size="7.9" class="s" fill="#111" textLength="51.94" lengthAdjust="spacingAndGlyphs">FF-SAPT(DFT)</text>
<path d="M63.8 347.1L66.56 351.7L63.8 356.3L61.04 351.7Z" fill="none" stroke="#8c564b" stroke-width="1.05"/>
<text x="77.48" y="353.6" font-family='"Liberation Sans",sans-serif' font-size="7.9" class="s" fill="#111" textLength="9.95" lengthAdjust="spacingAndGlyphs">HF</text>
<path d="M63.8 358.3L66.56 362.9L63.8 367.5L61.04 362.9Z" fill="none" stroke="#e377c2" stroke-width="1.05"/>
<text x="77.48" y="364.8" font-family='"Liberation Sans",sans-serif' font-size="7.9" class="s" fill="#111" textLength="19.35" lengthAdjust="spacingAndGlyphs">PBE0</text>
<circle cx="63.8" cy="374.1" r="3.25" fill="none" stroke="#9467bd" stroke-width="1.05"/>
<text x="77.71" y="376" font-family='"Liberation Sans",sans-serif' font-size="7.9" class="s" fill="#111" textLength="32.09" lengthAdjust="spacingAndGlyphs">CCSD(T)</text>
<g stroke="#fff" stroke-width="0.12">
<text x="87.91" y="278.8" font-family='"Liberation Serif",serif' font-size="17.2" fill="#000" textLength="5.13" lengthAdjust="spacingAndGlyphs">(</text>
<text x="93.45" y="278.8" font-family='"Liberation Serif",serif' font-size="15.5" fill="#000" textLength="8.49" lengthAdjust="spacingAndGlyphs">a</text>
<text x="102.23" y="278.8" font-family='"Liberation Serif",serif' font-size="17.2" fill="#000" textLength="5.08" lengthAdjust="spacingAndGlyphs">)</text>
<text x="114.7" y="278.8" font-family='"Liberation Serif",serif' font-size="15.5" font-style="italic" fill="#000" textLength="12.16" lengthAdjust="spacingAndGlyphs">R</text>
<text x="131.11" y="278.8" font-family='"Liberation Serif",serif' font-size="15.5" fill="#000" textLength="13.42" lengthAdjust="spacingAndGlyphs">=</text>
<text x="148.65" y="278.8" font-family='"Liberation Serif",serif' font-size="15.5" fill="#000" textLength="8.3" lengthAdjust="spacingAndGlyphs">5</text>
<text x="157.86" y="278.8" font-family='"Liberation Serif",serif' font-size="15.5" font-style="italic" fill="#000" textLength="8.93" lengthAdjust="spacingAndGlyphs">a</text>
<text x="166.37" y="281.2" font-family='"Liberation Serif",serif' font-size="11.16" fill="#000" textLength="5.78" lengthAdjust="spacingAndGlyphs">0</text>
<text x="179.91" y="278.8" font-family='"Liberation Serif",serif' font-size="17.2" fill="#000" textLength="5.13" lengthAdjust="spacingAndGlyphs">(</text>
<text x="185.6" y="278.8" font-family='"Liberation Serif",serif' font-size="15.5" fill="#000" textLength="53.7" lengthAdjust="spacingAndGlyphs">parallel</text>
<text x="239.67" y="278.8" font-family='"Liberation Serif",serif' font-size="17.2" fill="#000" textLength="5.08" lengthAdjust="spacingAndGlyphs">)</text>
</g>
<g stroke="#fff" stroke-width="0.12">
<text x="430.21" y="278.8" font-family='"Liberation Serif",serif' font-size="17.2" fill="#000" textLength="5.13" lengthAdjust="spacingAndGlyphs">(</text>
<text x="436.17" y="278.8" font-family='"Liberation Serif",serif' font-size="15.5" fill="#000" textLength="8.98" lengthAdjust="spacingAndGlyphs">b</text>
<text x="445.45" y="278.8" font-family='"Liberation Serif",serif' font-size="17.2" fill="#000" textLength="5.08" lengthAdjust="spacingAndGlyphs">)</text>
<text x="457.92" y="278.8" font-family='"Liberation Serif",serif' font-size="15.5" font-style="italic" fill="#000" textLength="12.16" lengthAdjust="spacingAndGlyphs">R</text>
<text x="474.33" y="278.8" font-family='"Liberation Serif",serif' font-size="15.5" fill="#000" textLength="13.42" lengthAdjust="spacingAndGlyphs">=</text>
<text x="491.87" y="278.8" font-family='"Liberation Serif",serif' font-size="15.5" fill="#000" textLength="8.3" lengthAdjust="spacingAndGlyphs">5</text>
<text x="501.09" y="278.8" font-family='"Liberation Serif",serif' font-size="15.5" font-style="italic" fill="#000" textLength="8.93" lengthAdjust="spacingAndGlyphs">a</text>
<text x="509.59" y="281.2" font-family='"Liberation Serif",serif' font-size="11.16" fill="#000" textLength="5.78" lengthAdjust="spacingAndGlyphs">0</text>
<text x="523.13" y="278.8" font-family='"Liberation Serif",serif' font-size="17.2" fill="#000" textLength="5.13" lengthAdjust="spacingAndGlyphs">(</text>
<text x="528.82" y="278.8" font-family='"Liberation Serif",serif' font-size="15.5" fill="#000" textLength="98.8" lengthAdjust="spacingAndGlyphs">perpendicular</text>
<text x="628.36" y="278.8" font-family='"Liberation Serif",serif' font-size="17.2" fill="#000" textLength="5.08" lengthAdjust="spacingAndGlyphs">)</text>
</g>
<g stroke="#fff" stroke-width="0.12">
<text x="87.91" y="574.2" font-family='"Liberation Serif",serif' font-size="17.2" fill="#000" textLength="5.13" lengthAdjust="spacingAndGlyphs">(</text>
<text x="93.36" y="574.2" font-family='"Liberation Serif",serif' font-size="15.5" fill="#000" textLength="7.56" lengthAdjust="spacingAndGlyphs">c</text>
<text x="101.29" y="574.2" font-family='"Liberation Serif",serif' font-size="17.2" fill="#000" textLength="5.08" lengthAdjust="spacingAndGlyphs">)</text>
<text x="114.7" y="574.2" font-family='"Liberation Serif",serif' font-size="15.5" font-style="italic" fill="#000" textLength="12.16" lengthAdjust="spacingAndGlyphs">R</text>
<text x="131.11" y="574.2" font-family='"Liberation Serif",serif' font-size="15.5" fill="#000" textLength="13.42" lengthAdjust="spacingAndGlyphs">=</text>
<text x="148.45" y="574.2" font-family='"Liberation Serif",serif' font-size="15.5" fill="#000" textLength="8.81" lengthAdjust="spacingAndGlyphs">7</text>
<text x="157.86" y="574.2" font-family='"Liberation Serif",serif' font-size="15.5" font-style="italic" fill="#000" textLength="8.93" lengthAdjust="spacingAndGlyphs">a</text>
<text x="166.37" y="576.6" font-family='"Liberation Serif",serif' font-size="11.16" fill="#000" textLength="5.78" lengthAdjust="spacingAndGlyphs">0</text>
<text x="179.91" y="574.2" font-family='"Liberation Serif",serif' font-size="17.2" fill="#000" textLength="5.13" lengthAdjust="spacingAndGlyphs">(</text>
<text x="185.6" y="574.2" font-family='"Liberation Serif",serif' font-size="15.5" fill="#000" textLength="53.7" lengthAdjust="spacingAndGlyphs">parallel</text>
<text x="239.67" y="574.2" font-family='"Liberation Serif",serif' font-size="17.2" fill="#000" textLength="5.08" lengthAdjust="spacingAndGlyphs">)</text>
</g>
<g stroke="#fff" stroke-width="0.12">
<text x="430.21" y="574.2" font-family='"Liberation Serif",serif' font-size="17.2" fill="#000" textLength="5.13" lengthAdjust="spacingAndGlyphs">(</text>
<text x="435.65" y="574.2" font-family='"Liberation Serif",serif' font-size="15.5" fill="#000" textLength="9.18" lengthAdjust="spacingAndGlyphs">d</text>
<text x="445.45" y="574.2" font-family='"Liberation Serif",serif' font-size="17.2" fill="#000" textLength="5.08" lengthAdjust="spacingAndGlyphs">)</text>
<text x="457.92" y="574.2" font-family='"Liberation Serif",serif' font-size="15.5" font-style="italic" fill="#000" textLength="12.16" lengthAdjust="spacingAndGlyphs">R</text>
<text x="474.33" y="574.2" font-family='"Liberation Serif",serif' font-size="15.5" fill="#000" textLength="13.42" lengthAdjust="spacingAndGlyphs">=</text>
<text x="491.68" y="574.2" font-family='"Liberation Serif",serif' font-size="15.5" fill="#000" textLength="8.81" lengthAdjust="spacingAndGlyphs">7</text>
<text x="501.09" y="574.2" font-family='"Liberation Serif",serif' font-size="15.5" font-style="italic" fill="#000" textLength="8.93" lengthAdjust="spacingAndGlyphs">a</text>
<text x="509.59" y="576.6" font-family='"Liberation Serif",serif' font-size="11.16" fill="#000" textLength="5.78" lengthAdjust="spacingAndGlyphs">0</text>
<text x="523.13" y="574.2" font-family='"Liberation Serif",serif' font-size="17.2" fill="#000" textLength="5.13" lengthAdjust="spacingAndGlyphs">(</text>
<text x="528.82" y="574.2" font-family='"Liberation Serif",serif' font-size="15.5" fill="#000" textLength="98.8" lengthAdjust="spacingAndGlyphs">perpendicular</text>
<text x="628.36" y="574.2" font-family='"Liberation Serif",serif' font-size="17.2" fill="#000" textLength="5.08" lengthAdjust="spacingAndGlyphs">)</text>
</g>
</svg>
</body></html>
